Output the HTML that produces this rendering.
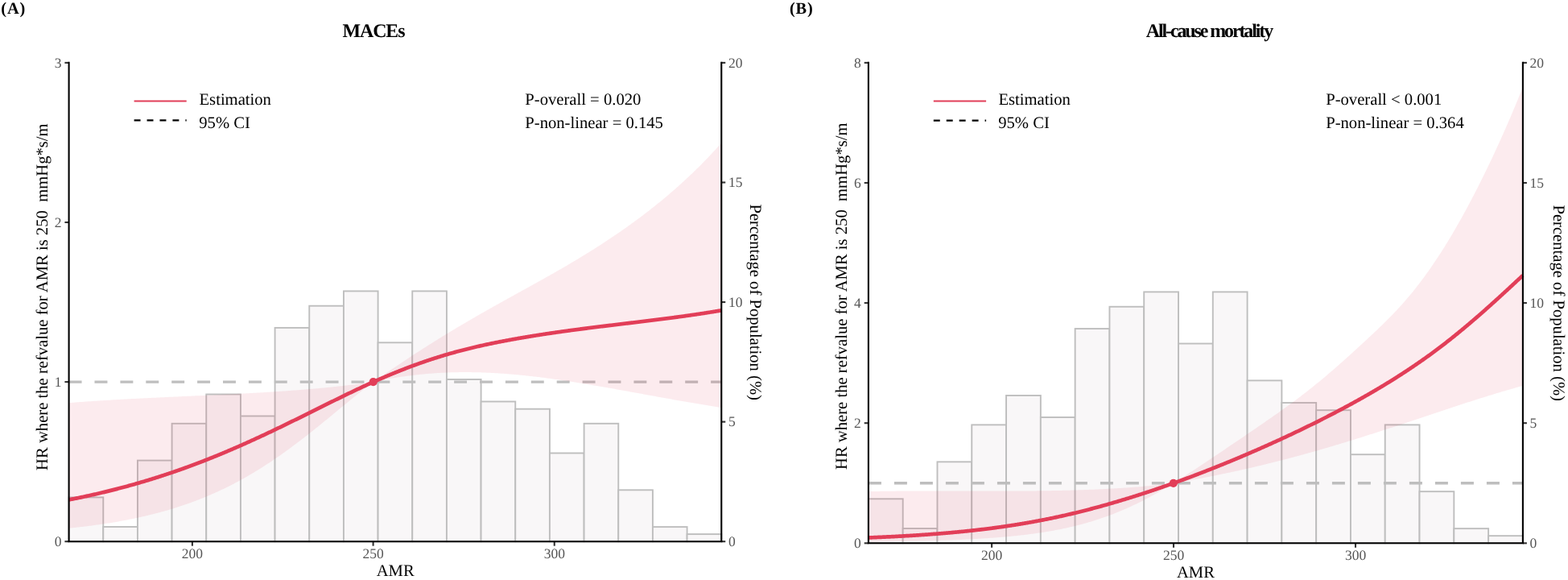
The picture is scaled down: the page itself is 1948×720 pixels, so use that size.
<!DOCTYPE html>
<html><head><meta charset="utf-8"><title>RCS plots</title>
<style>
html,body{margin:0;padding:0;background:#fff;}
body{width:1948px;height:720px;overflow:hidden;}
svg{display:block;}
text{font-family:'Liberation Serif','Times New Roman',serif;text-rendering:geometricPrecision;}
.tk{font-size:17.5px;fill:#555555;}
.lb{font-size:20.65px;fill:#000;}
.tb{font-size:20.4px;font-weight:bold;fill:#000;}
.tt{font-size:23.9px;font-weight:bold;fill:#000;}
.t1{letter-spacing:-1.1px;}
.t2{letter-spacing:-2.08px;}
</style></head>
<body>
<svg width="1948" height="720" viewBox="0 0 1948 720">
<rect x="0" y="0" width="1948" height="720" fill="#fff"/>
<rect x="85.60" y="617.40" width="42.67" height="54.80" fill="#f9f7f8" stroke="#bebebe" stroke-width="1.9"/>
<rect x="128.27" y="654.00" width="42.67" height="18.20" fill="#f9f7f8" stroke="#bebebe" stroke-width="1.9"/>
<rect x="170.93" y="571.60" width="42.67" height="100.60" fill="#f9f7f8" stroke="#bebebe" stroke-width="1.9"/>
<rect x="213.60" y="525.80" width="42.67" height="146.40" fill="#f9f7f8" stroke="#bebebe" stroke-width="1.9"/>
<rect x="256.26" y="489.50" width="42.67" height="182.70" fill="#f9f7f8" stroke="#bebebe" stroke-width="1.9"/>
<rect x="298.93" y="516.50" width="42.67" height="155.70" fill="#f9f7f8" stroke="#bebebe" stroke-width="1.9"/>
<rect x="341.59" y="406.90" width="42.67" height="265.30" fill="#f9f7f8" stroke="#bebebe" stroke-width="1.9"/>
<rect x="384.26" y="379.70" width="42.67" height="292.50" fill="#f9f7f8" stroke="#bebebe" stroke-width="1.9"/>
<rect x="426.93" y="361.40" width="42.67" height="310.80" fill="#f9f7f8" stroke="#bebebe" stroke-width="1.9"/>
<rect x="469.59" y="425.30" width="42.67" height="246.90" fill="#f9f7f8" stroke="#bebebe" stroke-width="1.9"/>
<rect x="512.26" y="361.40" width="42.67" height="310.80" fill="#f9f7f8" stroke="#bebebe" stroke-width="1.9"/>
<rect x="554.92" y="471.00" width="42.67" height="201.20" fill="#f9f7f8" stroke="#bebebe" stroke-width="1.9"/>
<rect x="597.59" y="498.50" width="42.67" height="173.70" fill="#f9f7f8" stroke="#bebebe" stroke-width="1.9"/>
<rect x="640.26" y="507.70" width="42.67" height="164.50" fill="#f9f7f8" stroke="#bebebe" stroke-width="1.9"/>
<rect x="682.92" y="562.50" width="42.67" height="109.70" fill="#f9f7f8" stroke="#bebebe" stroke-width="1.9"/>
<rect x="725.59" y="525.80" width="42.67" height="146.40" fill="#f9f7f8" stroke="#bebebe" stroke-width="1.9"/>
<rect x="768.25" y="608.30" width="42.67" height="63.90" fill="#f9f7f8" stroke="#bebebe" stroke-width="1.9"/>
<rect x="810.92" y="654.10" width="42.67" height="18.10" fill="#f9f7f8" stroke="#bebebe" stroke-width="1.9"/>
<rect x="853.58" y="663.10" width="42.67" height="9.10" fill="#f9f7f8" stroke="#bebebe" stroke-width="1.9"/>
<line x1="85.60" y1="474.10" x2="896.25" y2="474.10" stroke="#bebebe" stroke-width="3.4" stroke-dasharray="15.95 15.95"/>
<path d="M85.60,500.13 L87.10,500.02 L88.60,499.90 L90.10,499.78 L91.60,499.67 L93.10,499.56 L94.60,499.44 L96.10,499.33 L97.60,499.22 L99.10,499.11 L100.60,499.00 L102.10,498.89 L103.60,498.79 L105.10,498.68 L106.60,498.57 L108.10,498.47 L109.60,498.37 L111.10,498.26 L112.60,498.16 L114.10,498.06 L115.60,497.96 L117.10,497.86 L118.60,497.76 L120.10,497.66 L121.60,497.57 L123.10,497.47 L124.60,497.37 L126.10,497.28 L127.60,497.18 L129.10,497.09 L130.60,497.00 L132.10,496.91 L133.60,496.82 L135.10,496.72 L136.60,496.63 L138.10,496.55 L139.60,496.46 L141.10,496.37 L142.60,496.28 L144.10,496.19 L145.60,496.11 L147.10,496.02 L148.60,495.94 L150.10,495.85 L151.60,495.77 L153.10,495.69 L154.60,495.61 L156.10,495.52 L157.60,495.44 L159.10,495.36 L160.60,495.28 L162.10,495.20 L163.60,495.12 L165.10,495.04 L166.60,494.96 L168.10,494.89 L169.60,494.81 L171.10,494.73 L172.60,494.66 L174.10,494.58 L175.60,494.50 L177.10,494.43 L178.60,494.35 L180.10,494.28 L181.60,494.21 L183.10,494.13 L184.60,494.06 L186.10,493.99 L187.60,493.91 L189.10,493.84 L190.60,493.77 L192.10,493.70 L193.60,493.63 L195.10,493.56 L196.60,493.48 L198.10,493.41 L199.60,493.34 L201.10,493.27 L202.60,493.20 L204.10,493.13 L205.60,493.07 L207.10,493.00 L208.60,492.93 L210.10,492.86 L211.60,492.79 L213.10,492.72 L214.60,492.65 L216.10,492.58 L217.60,492.52 L219.10,492.45 L220.60,492.38 L222.10,492.31 L223.60,492.25 L225.10,492.18 L226.60,492.11 L228.10,492.04 L229.60,491.98 L231.10,491.91 L232.60,491.84 L234.10,491.77 L235.60,491.71 L237.10,491.64 L238.60,491.57 L240.10,491.50 L241.60,491.44 L243.10,491.37 L244.60,491.30 L246.10,491.23 L247.60,491.17 L249.10,491.10 L250.60,491.03 L252.10,490.96 L253.60,490.89 L255.10,490.82 L256.60,490.76 L258.10,490.69 L259.60,490.62 L261.10,490.55 L262.60,490.48 L264.10,490.41 L265.60,490.34 L267.10,490.27 L268.60,490.20 L270.10,490.13 L271.60,490.06 L273.10,489.99 L274.60,489.91 L276.10,489.84 L277.60,489.77 L279.10,489.70 L280.60,489.62 L282.10,489.55 L283.60,489.48 L285.10,489.40 L286.60,489.33 L288.10,489.25 L289.60,489.18 L291.10,489.10 L292.60,489.03 L294.10,488.95 L295.60,488.87 L297.10,488.80 L298.60,488.72 L300.10,488.64 L301.60,488.56 L303.10,488.48 L304.60,488.40 L306.10,488.32 L307.60,488.24 L309.10,488.16 L310.60,488.08 L312.10,487.99 L313.60,487.91 L315.10,487.82 L316.60,487.74 L318.10,487.65 L319.60,487.57 L321.10,487.48 L322.60,487.39 L324.10,487.31 L325.60,487.22 L327.10,487.13 L328.60,487.04 L330.10,486.95 L331.60,486.85 L333.10,486.76 L334.60,486.67 L336.10,486.57 L337.60,486.48 L339.10,486.38 L340.60,486.29 L342.10,486.19 L343.60,486.09 L345.10,485.99 L346.60,485.89 L348.10,485.79 L349.60,485.69 L351.10,485.59 L352.60,485.48 L354.10,485.38 L355.60,485.27 L357.10,485.16 L358.60,485.06 L360.10,484.95 L361.60,484.84 L363.10,484.73 L364.60,484.62 L366.10,484.50 L367.60,484.39 L369.10,484.27 L370.60,484.16 L372.10,484.04 L373.60,483.92 L375.10,483.80 L376.60,483.68 L378.10,483.56 L379.60,483.44 L381.10,483.31 L382.60,483.19 L384.10,483.06 L385.60,482.93 L387.10,482.80 L388.60,482.67 L390.10,482.54 L391.60,482.41 L393.10,482.28 L394.60,482.14 L396.10,482.00 L397.60,481.86 L399.10,481.73 L400.60,481.58 L402.10,481.44 L403.60,481.30 L405.10,481.15 L406.60,481.01 L408.10,480.86 L409.60,480.71 L411.10,480.56 L412.60,480.41 L414.10,480.25 L415.60,480.10 L417.10,479.94 L418.60,479.78 L420.10,479.62 L421.60,479.46 L423.10,479.29 L424.60,479.13 L426.10,478.96 L427.60,478.79 L429.10,478.62 L430.60,478.45 L432.10,478.28 L433.60,478.10 L435.10,477.93 L436.60,477.75 L438.10,477.57 L439.60,477.39 L441.10,477.20 L442.60,477.02 L444.10,476.83 L445.60,476.64 L447.10,476.45 L448.60,476.25 L450.10,476.06 L451.60,475.86 L453.10,475.66 L454.60,475.46 L456.10,475.26 L457.60,475.05 L459.10,474.85 L460.60,474.64 L462.10,474.43 L463.60,474.21 L463.70,474.20 L465.20,473.16 L466.70,472.12 L468.20,471.08 L469.70,470.04 L471.20,469.00 L472.70,467.97 L474.20,466.94 L475.70,465.91 L477.20,464.88 L478.70,463.85 L480.20,462.83 L481.70,461.81 L483.20,460.78 L484.70,459.77 L486.20,458.75 L487.70,457.73 L489.20,456.72 L490.70,455.71 L492.20,454.70 L493.70,453.69 L495.20,452.69 L496.70,451.68 L498.20,450.68 L499.70,449.69 L501.20,448.69 L502.70,447.69 L504.20,446.70 L505.70,445.71 L507.20,444.72 L508.70,443.74 L510.20,442.76 L511.70,441.77 L513.20,440.80 L514.70,439.82 L516.20,438.85 L517.70,437.87 L519.20,436.90 L520.70,435.94 L522.20,434.97 L523.70,434.01 L525.20,433.05 L526.70,432.09 L528.20,431.14 L529.70,430.18 L531.20,429.23 L532.70,428.28 L534.20,427.34 L535.70,426.39 L537.20,425.45 L538.70,424.51 L540.20,423.58 L541.70,422.64 L543.20,421.71 L544.70,420.78 L546.20,419.85 L547.70,418.93 L549.20,418.01 L550.70,417.09 L552.20,416.17 L553.70,415.25 L555.20,414.34 L556.70,413.43 L558.20,412.52 L559.70,411.61 L561.20,410.71 L562.70,409.80 L564.20,408.90 L565.70,408.00 L567.20,407.11 L568.70,406.22 L570.20,405.32 L571.70,404.43 L573.20,403.55 L574.70,402.66 L576.20,401.78 L577.70,400.90 L579.20,400.02 L580.70,399.14 L582.20,398.26 L583.70,397.39 L585.20,396.52 L586.70,395.65 L588.20,394.78 L589.70,393.91 L591.20,393.05 L592.70,392.19 L594.20,391.33 L595.70,390.47 L597.20,389.61 L598.70,388.75 L600.20,387.90 L601.70,387.04 L603.20,386.19 L604.70,385.34 L606.20,384.49 L607.70,383.64 L609.20,382.80 L610.70,381.95 L612.20,381.11 L613.70,380.27 L615.20,379.43 L616.70,378.59 L618.20,377.75 L619.70,376.91 L621.20,376.07 L622.70,375.24 L624.20,374.40 L625.70,373.57 L627.20,372.73 L628.70,371.90 L630.20,371.07 L631.70,370.24 L633.20,369.41 L634.70,368.57 L636.20,367.74 L637.70,366.92 L639.20,366.09 L640.70,365.26 L642.20,364.43 L643.70,363.60 L645.20,362.77 L646.70,361.94 L648.20,361.12 L649.70,360.29 L651.20,359.46 L652.70,358.63 L654.20,357.80 L655.70,356.97 L657.20,356.15 L658.70,355.32 L660.20,354.49 L661.70,353.66 L663.20,352.82 L664.70,351.99 L666.20,351.16 L667.70,350.33 L669.20,349.49 L670.70,348.66 L672.20,347.82 L673.70,346.98 L675.20,346.15 L676.70,345.31 L678.20,344.47 L679.70,343.62 L681.20,342.78 L682.70,341.93 L684.20,341.09 L685.70,340.24 L687.20,339.39 L688.70,338.54 L690.20,337.68 L691.70,336.83 L693.20,335.97 L694.70,335.11 L696.20,334.25 L697.70,333.38 L699.20,332.51 L700.70,331.64 L702.20,330.77 L703.70,329.90 L705.20,329.02 L706.70,328.14 L708.20,327.26 L709.70,326.37 L711.20,325.48 L712.70,324.59 L714.20,323.70 L715.70,322.80 L717.20,321.90 L718.70,321.00 L720.20,320.09 L721.70,319.18 L723.20,318.27 L724.70,317.35 L726.20,316.43 L727.70,315.51 L729.20,314.59 L730.70,313.66 L732.20,312.73 L733.70,311.79 L735.20,310.85 L736.70,309.91 L738.20,308.96 L739.70,308.01 L741.20,307.06 L742.70,306.10 L744.20,305.14 L745.70,304.18 L747.20,303.21 L748.70,302.24 L750.20,301.26 L751.70,300.28 L753.20,299.30 L754.70,298.31 L756.20,297.32 L757.70,296.32 L759.20,295.32 L760.70,294.32 L762.20,293.31 L763.70,292.29 L765.20,291.27 L766.70,290.25 L768.20,289.22 L769.70,288.19 L771.20,287.16 L772.70,286.11 L774.20,285.07 L775.70,284.02 L777.20,282.96 L778.70,281.90 L780.20,280.83 L781.70,279.76 L783.20,278.69 L784.70,277.61 L786.20,276.52 L787.70,275.43 L789.20,274.33 L790.70,273.23 L792.20,272.12 L793.70,271.00 L795.20,269.89 L796.70,268.76 L798.20,267.63 L799.70,266.49 L801.20,265.35 L802.70,264.20 L804.20,263.05 L805.70,261.89 L807.20,260.72 L808.70,259.55 L810.20,258.37 L811.70,257.18 L813.20,255.99 L814.70,254.79 L816.20,253.59 L817.70,252.37 L819.20,251.16 L820.70,249.93 L822.20,248.70 L823.70,247.46 L825.20,246.21 L826.70,244.96 L828.20,243.70 L829.70,242.43 L831.20,241.15 L832.70,239.87 L834.20,238.58 L835.70,237.28 L837.20,235.98 L838.70,234.67 L840.20,233.34 L841.70,232.02 L843.20,230.68 L844.70,229.33 L846.20,227.98 L847.70,226.62 L849.20,225.25 L850.70,223.87 L852.20,222.48 L853.70,221.09 L855.20,219.69 L856.70,218.27 L858.20,216.85 L859.70,215.42 L861.20,213.98 L862.70,212.53 L864.20,211.07 L865.70,209.60 L867.20,208.13 L868.70,206.64 L870.20,205.14 L871.70,203.64 L873.20,202.12 L874.70,200.59 L876.20,199.06 L877.70,197.51 L879.20,195.95 L880.70,194.39 L882.20,192.81 L883.70,191.22 L885.20,189.62 L886.70,188.01 L888.20,186.39 L889.70,184.76 L891.20,183.11 L892.70,181.46 L894.20,179.79 L895.70,178.11 L896.25,177.50 L896.25,506.04 L895.70,505.96 L894.20,505.72 L892.70,505.49 L891.20,505.25 L889.70,505.01 L888.20,504.78 L886.70,504.54 L885.20,504.30 L883.70,504.06 L882.20,503.81 L880.70,503.57 L879.20,503.33 L877.70,503.08 L876.20,502.84 L874.70,502.59 L873.20,502.34 L871.70,502.09 L870.20,501.84 L868.70,501.59 L867.20,501.34 L865.70,501.09 L864.20,500.83 L862.70,500.58 L861.20,500.32 L859.70,500.07 L858.20,499.81 L856.70,499.55 L855.20,499.30 L853.70,499.04 L852.20,498.78 L850.70,498.52 L849.20,498.26 L847.70,497.99 L846.20,497.73 L844.70,497.47 L843.20,497.20 L841.70,496.94 L840.20,496.68 L838.70,496.41 L837.20,496.14 L835.70,495.88 L834.20,495.61 L832.70,495.34 L831.20,495.08 L829.70,494.81 L828.20,494.54 L826.70,494.27 L825.20,494.00 L823.70,493.73 L822.20,493.46 L820.70,493.19 L819.20,492.92 L817.70,492.65 L816.20,492.38 L814.70,492.10 L813.20,491.83 L811.70,491.56 L810.20,491.29 L808.70,491.01 L807.20,490.74 L805.70,490.47 L804.20,490.20 L802.70,489.92 L801.20,489.65 L799.70,489.38 L798.20,489.10 L796.70,488.83 L795.20,488.56 L793.70,488.28 L792.20,488.01 L790.70,487.74 L789.20,487.47 L787.70,487.19 L786.20,486.92 L784.70,486.65 L783.20,486.38 L781.70,486.10 L780.20,485.83 L778.70,485.56 L777.20,485.29 L775.70,485.02 L774.20,484.75 L772.70,484.48 L771.20,484.21 L769.70,483.94 L768.20,483.67 L766.70,483.40 L765.20,483.13 L763.70,482.86 L762.20,482.60 L760.70,482.33 L759.20,482.06 L757.70,481.80 L756.20,481.53 L754.70,481.27 L753.20,481.00 L751.70,480.74 L750.20,480.48 L748.70,480.22 L747.20,479.96 L745.70,479.70 L744.20,479.44 L742.70,479.18 L741.20,478.92 L739.70,478.67 L738.20,478.41 L736.70,478.16 L735.20,477.90 L733.70,477.65 L732.20,477.40 L730.70,477.15 L729.20,476.90 L727.70,476.65 L726.20,476.40 L724.70,476.16 L723.20,475.91 L721.70,475.67 L720.20,475.42 L718.70,475.18 L717.20,474.94 L715.70,474.70 L714.20,474.47 L712.70,474.23 L711.20,474.00 L709.70,473.76 L708.20,473.53 L706.70,473.30 L705.20,473.07 L703.70,472.85 L702.20,472.62 L700.70,472.40 L699.20,472.17 L697.70,471.95 L696.20,471.73 L694.70,471.52 L693.20,471.30 L691.70,471.09 L690.20,470.88 L688.70,470.67 L687.20,470.46 L685.70,470.25 L684.20,470.05 L682.70,469.84 L681.20,469.64 L679.70,469.44 L678.20,469.25 L676.70,469.05 L675.20,468.86 L673.70,468.67 L672.20,468.48 L670.70,468.30 L669.20,468.11 L667.70,467.93 L666.20,467.75 L664.70,467.57 L663.20,467.40 L661.70,467.22 L660.20,467.05 L658.70,466.89 L657.20,466.72 L655.70,466.56 L654.20,466.40 L652.70,466.24 L651.20,466.08 L649.70,465.93 L648.20,465.78 L646.70,465.63 L645.20,465.48 L643.70,465.34 L642.20,465.20 L640.70,465.06 L639.20,464.93 L637.70,464.80 L636.20,464.67 L634.70,464.54 L633.20,464.42 L631.70,464.30 L630.20,464.18 L628.70,464.06 L627.20,463.95 L625.70,463.84 L624.20,463.74 L622.70,463.63 L621.20,463.53 L619.70,463.44 L618.20,463.34 L616.70,463.25 L615.20,463.16 L613.70,463.08 L612.20,463.00 L610.70,462.92 L609.20,462.84 L607.70,462.77 L606.20,462.70 L604.70,462.64 L603.20,462.58 L601.70,462.52 L600.20,462.46 L598.70,462.41 L597.20,462.37 L595.70,462.32 L594.20,462.28 L592.70,462.24 L591.20,462.21 L589.70,462.18 L588.20,462.15 L586.70,462.13 L585.20,462.11 L583.70,462.09 L582.20,462.08 L580.70,462.07 L579.20,462.07 L577.70,462.06 L576.20,462.07 L574.70,462.07 L573.20,462.08 L571.70,462.10 L570.20,462.12 L568.70,462.14 L567.20,462.16 L565.70,462.19 L564.20,462.23 L562.70,462.26 L561.20,462.30 L559.70,462.35 L558.20,462.40 L556.70,462.45 L555.20,462.51 L553.70,462.57 L552.20,462.64 L550.70,462.71 L549.20,462.78 L547.70,462.86 L546.20,462.94 L544.70,463.03 L543.20,463.12 L541.70,463.21 L540.20,463.31 L538.70,463.41 L537.20,463.52 L535.70,463.63 L534.20,463.75 L532.70,463.87 L531.20,463.99 L529.70,464.12 L528.20,464.25 L526.70,464.39 L525.20,464.53 L523.70,464.68 L522.20,464.83 L520.70,464.98 L519.20,465.14 L517.70,465.31 L516.20,465.47 L514.70,465.65 L513.20,465.82 L511.70,466.01 L510.20,466.19 L508.70,466.38 L507.20,466.58 L505.70,466.78 L504.20,466.98 L502.70,467.19 L501.20,467.40 L499.70,467.62 L498.20,467.84 L496.70,468.07 L495.20,468.30 L493.70,468.53 L492.20,468.77 L490.70,469.02 L489.20,469.27 L487.70,469.52 L486.20,469.78 L484.70,470.04 L483.20,470.31 L481.70,470.58 L480.20,470.86 L478.70,471.14 L477.20,471.42 L475.70,471.71 L474.20,472.01 L472.70,472.31 L471.20,472.61 L469.70,472.92 L468.20,473.23 L466.70,473.55 L465.20,473.87 L463.70,474.20 L463.60,474.27 L462.10,475.41 L460.60,476.55 L459.10,477.69 L457.60,478.85 L456.10,480.01 L454.60,481.18 L453.10,482.35 L451.60,483.53 L450.10,484.71 L448.60,485.90 L447.10,487.09 L445.60,488.29 L444.10,489.49 L442.60,490.69 L441.10,491.90 L439.60,493.12 L438.10,494.33 L436.60,495.55 L435.10,496.77 L433.60,498.00 L432.10,499.22 L430.60,500.45 L429.10,501.68 L427.60,502.91 L426.10,504.14 L424.60,505.37 L423.10,506.61 L421.60,507.84 L420.10,509.08 L418.60,510.31 L417.10,511.55 L415.60,512.78 L414.10,514.01 L412.60,515.25 L411.10,516.48 L409.60,517.71 L408.10,518.94 L406.60,520.17 L405.10,521.39 L403.60,522.62 L402.10,523.84 L400.60,525.06 L399.10,526.27 L397.60,527.49 L396.10,528.70 L394.60,529.91 L393.10,531.12 L391.60,532.32 L390.10,533.52 L388.60,534.71 L387.10,535.90 L385.60,537.09 L384.10,538.28 L382.60,539.46 L381.10,540.63 L379.60,541.80 L378.10,542.97 L376.60,544.13 L375.10,545.29 L373.60,546.44 L372.10,547.59 L370.60,548.73 L369.10,549.87 L367.60,551.00 L366.10,552.12 L364.60,553.24 L363.10,554.36 L361.60,555.47 L360.10,556.57 L358.60,557.67 L357.10,558.76 L355.60,559.85 L354.10,560.93 L352.60,562.00 L351.10,563.07 L349.60,564.13 L348.10,565.18 L346.60,566.23 L345.10,567.27 L343.60,568.31 L342.10,569.34 L340.60,570.36 L339.10,571.37 L337.60,572.38 L336.10,573.38 L334.60,574.38 L333.10,575.36 L331.60,576.34 L330.10,577.32 L328.60,578.28 L327.10,579.24 L325.60,580.20 L324.10,581.14 L322.60,582.08 L321.10,583.01 L319.60,583.94 L318.10,584.85 L316.60,585.76 L315.10,586.66 L313.60,587.56 L312.10,588.45 L310.60,589.33 L309.10,590.20 L307.60,591.07 L306.10,591.93 L304.60,592.78 L303.10,593.63 L301.60,594.46 L300.10,595.29 L298.60,596.12 L297.10,596.93 L295.60,597.74 L294.10,598.54 L292.60,599.34 L291.10,600.13 L289.60,600.91 L288.10,601.68 L286.60,602.44 L285.10,603.20 L283.60,603.96 L282.10,604.70 L280.60,605.44 L279.10,606.17 L277.60,606.89 L276.10,607.61 L274.60,608.32 L273.10,609.02 L271.60,609.72 L270.10,610.41 L268.60,611.09 L267.10,611.76 L265.60,612.43 L264.10,613.10 L262.60,613.75 L261.10,614.40 L259.60,615.04 L258.10,615.68 L256.60,616.31 L255.10,616.93 L253.60,617.55 L252.10,618.15 L250.60,618.76 L249.10,619.35 L247.60,619.95 L246.10,620.53 L244.60,621.11 L243.10,621.68 L241.60,622.24 L240.10,622.80 L238.60,623.36 L237.10,623.91 L235.60,624.45 L234.10,624.98 L232.60,625.51 L231.10,626.04 L229.60,626.55 L228.10,627.07 L226.60,627.57 L225.10,628.07 L223.60,628.57 L222.10,629.06 L220.60,629.54 L219.10,630.02 L217.60,630.49 L216.10,630.96 L214.60,631.42 L213.10,631.88 L211.60,632.33 L210.10,632.78 L208.60,633.22 L207.10,633.65 L205.60,634.08 L204.10,634.51 L202.60,634.93 L201.10,635.35 L199.60,635.76 L198.10,636.16 L196.60,636.56 L195.10,636.96 L193.60,637.35 L192.10,637.74 L190.60,638.12 L189.10,638.50 L187.60,638.87 L186.10,639.24 L184.60,639.60 L183.10,639.96 L181.60,640.32 L180.10,640.67 L178.60,641.02 L177.10,641.36 L175.60,641.70 L174.10,642.03 L172.60,642.36 L171.10,642.69 L169.60,643.01 L168.10,643.33 L166.60,643.64 L165.10,643.95 L163.60,644.26 L162.10,644.56 L160.60,644.86 L159.10,645.15 L157.60,645.44 L156.10,645.73 L154.60,646.01 L153.10,646.29 L151.60,646.57 L150.10,646.84 L148.60,647.11 L147.10,647.38 L145.60,647.64 L144.10,647.90 L142.60,648.15 L141.10,648.41 L139.60,648.66 L138.10,648.90 L136.60,649.15 L135.10,649.38 L133.60,649.62 L132.10,649.85 L130.60,650.09 L129.10,650.31 L127.60,650.54 L126.10,650.76 L124.60,650.98 L123.10,651.19 L121.60,651.41 L120.10,651.62 L118.60,651.82 L117.10,652.03 L115.60,652.23 L114.10,652.43 L112.60,652.63 L111.10,652.82 L109.60,653.01 L108.10,653.20 L106.60,653.39 L105.10,653.57 L103.60,653.75 L102.10,653.93 L100.60,654.11 L99.10,654.28 L97.60,654.45 L96.10,654.62 L94.60,654.79 L93.10,654.95 L91.60,655.12 L90.10,655.28 L88.60,655.43 L87.10,655.59 L85.60,655.74 Z" fill="#e23e58" fill-opacity="0.1" stroke="none"/>
<path d="M85.60,620.41 L86.60,620.22 L87.60,620.02 L88.60,619.82 L89.60,619.62 L90.60,619.42 L91.60,619.22 L92.60,619.02 L93.60,618.82 L94.60,618.62 L95.60,618.41 L96.60,618.21 L97.60,618.00 L98.60,617.79 L99.60,617.58 L100.60,617.37 L101.60,617.16 L102.60,616.95 L103.60,616.74 L104.60,616.53 L105.60,616.31 L106.60,616.10 L107.60,615.88 L108.60,615.66 L109.60,615.44 L110.60,615.22 L111.60,615.00 L112.60,614.78 L113.60,614.56 L114.60,614.33 L115.60,614.11 L116.60,613.88 L117.60,613.66 L118.60,613.43 L119.60,613.20 L120.60,612.97 L121.60,612.74 L122.60,612.51 L123.60,612.27 L124.60,612.04 L125.60,611.80 L126.60,611.57 L127.60,611.33 L128.60,611.09 L129.60,610.85 L130.60,610.61 L131.60,610.37 L132.60,610.12 L133.60,609.88 L134.60,609.63 L135.60,609.39 L136.60,609.14 L137.60,608.89 L138.60,608.64 L139.60,608.39 L140.60,608.14 L141.60,607.88 L142.60,607.63 L143.60,607.37 L144.60,607.12 L145.60,606.86 L146.60,606.60 L147.60,606.34 L148.60,606.08 L149.60,605.81 L150.60,605.55 L151.60,605.29 L152.60,605.02 L153.60,604.75 L154.60,604.49 L155.60,604.22 L156.60,603.95 L157.60,603.67 L158.60,603.40 L159.60,603.13 L160.60,602.85 L161.60,602.58 L162.60,602.30 L163.60,602.02 L164.60,601.74 L165.60,601.46 L166.60,601.18 L167.60,600.89 L168.60,600.61 L169.60,600.32 L170.60,600.03 L171.60,599.75 L172.60,599.46 L173.60,599.17 L174.60,598.87 L175.60,598.58 L176.60,598.29 L177.60,597.99 L178.60,597.70 L179.60,597.40 L180.60,597.10 L181.60,596.80 L182.60,596.50 L183.60,596.19 L184.60,595.89 L185.60,595.59 L186.60,595.28 L187.60,594.97 L188.60,594.66 L189.60,594.35 L190.60,594.04 L191.60,593.73 L192.60,593.41 L193.60,593.10 L194.60,592.78 L195.60,592.47 L196.60,592.15 L197.60,591.83 L198.60,591.51 L199.60,591.18 L200.60,590.86 L201.60,590.54 L202.60,590.21 L203.60,589.88 L204.60,589.55 L205.60,589.22 L206.60,588.89 L207.60,588.56 L208.60,588.23 L209.60,587.89 L210.60,587.56 L211.60,587.22 L212.60,586.88 L213.60,586.54 L214.60,586.20 L215.60,585.86 L216.60,585.52 L217.60,585.17 L218.60,584.82 L219.60,584.48 L220.60,584.13 L221.60,583.78 L222.60,583.43 L223.60,583.08 L224.60,582.72 L225.60,582.37 L226.60,582.01 L227.60,581.66 L228.60,581.30 L229.60,580.94 L230.60,580.58 L231.60,580.21 L232.60,579.85 L233.60,579.49 L234.60,579.12 L235.60,578.75 L236.60,578.39 L237.60,578.02 L238.60,577.64 L239.60,577.27 L240.60,576.90 L241.60,576.53 L242.60,576.15 L243.60,575.77 L244.60,575.39 L245.60,575.02 L246.60,574.63 L247.60,574.25 L248.60,573.87 L249.60,573.49 L250.60,573.10 L251.60,572.71 L252.60,572.33 L253.60,571.94 L254.60,571.55 L255.60,571.15 L256.60,570.76 L257.60,570.37 L258.60,569.97 L259.60,569.58 L260.60,569.18 L261.60,568.78 L262.60,568.38 L263.60,567.98 L264.60,567.58 L265.60,567.17 L266.60,566.77 L267.60,566.36 L268.60,565.96 L269.60,565.55 L270.60,565.14 L271.60,564.73 L272.60,564.32 L273.60,563.90 L274.60,563.49 L275.60,563.07 L276.60,562.66 L277.60,562.24 L278.60,561.82 L279.60,561.40 L280.60,560.98 L281.60,560.56 L282.60,560.14 L283.60,559.71 L284.60,559.29 L285.60,558.86 L286.60,558.43 L287.60,558.00 L288.60,557.57 L289.60,557.14 L290.60,556.71 L291.60,556.28 L292.60,555.84 L293.60,555.41 L294.60,554.97 L295.60,554.54 L296.60,554.10 L297.60,553.66 L298.60,553.22 L299.60,552.78 L300.60,552.34 L301.60,551.89 L302.60,551.45 L303.60,551.00 L304.60,550.56 L305.60,550.11 L306.60,549.66 L307.60,549.21 L308.60,548.76 L309.60,548.31 L310.60,547.86 L311.60,547.40 L312.60,546.95 L313.60,546.49 L314.60,546.04 L315.60,545.58 L316.60,545.12 L317.60,544.66 L318.60,544.20 L319.60,543.74 L320.60,543.28 L321.60,542.82 L322.60,542.36 L323.60,541.89 L324.60,541.43 L325.60,540.96 L326.60,540.50 L327.60,540.03 L328.60,539.56 L329.60,539.09 L330.60,538.62 L331.60,538.15 L332.60,537.68 L333.60,537.21 L334.60,536.73 L335.60,536.26 L336.60,535.79 L337.60,535.31 L338.60,534.83 L339.60,534.36 L340.60,533.88 L341.60,533.40 L342.60,532.92 L343.60,532.44 L344.60,531.96 L345.60,531.48 L346.60,531.00 L347.60,530.52 L348.60,530.04 L349.60,529.55 L350.60,529.07 L351.60,528.59 L352.60,528.10 L353.60,527.62 L354.60,527.13 L355.60,526.64 L356.60,526.16 L357.60,525.67 L358.60,525.18 L359.60,524.69 L360.60,524.20 L361.60,523.71 L362.60,523.22 L363.60,522.73 L364.60,522.24 L365.60,521.75 L366.60,521.26 L367.60,520.77 L368.60,520.28 L369.60,519.78 L370.60,519.29 L371.60,518.80 L372.60,518.30 L373.60,517.81 L374.60,517.31 L375.60,516.82 L376.60,516.33 L377.60,515.83 L378.60,515.34 L379.60,514.84 L380.60,514.34 L381.60,513.85 L382.60,513.35 L383.60,512.86 L384.60,512.36 L385.60,511.86 L386.60,511.37 L387.60,510.87 L388.60,510.37 L389.60,509.88 L390.60,509.38 L391.60,508.88 L392.60,508.39 L393.60,507.89 L394.60,507.39 L395.60,506.90 L396.60,506.40 L397.60,505.90 L398.60,505.41 L399.60,504.91 L400.60,504.41 L401.60,503.92 L402.60,503.42 L403.60,502.93 L404.60,502.43 L405.60,501.94 L406.60,501.44 L407.60,500.95 L408.60,500.45 L409.60,499.96 L410.60,499.46 L411.60,498.97 L412.60,498.48 L413.60,497.98 L414.60,497.49 L415.60,497.00 L416.60,496.51 L417.60,496.01 L418.60,495.52 L419.60,495.03 L420.60,494.54 L421.60,494.05 L422.60,493.57 L423.60,493.08 L424.60,492.59 L425.60,492.10 L426.60,491.62 L427.60,491.13 L428.60,490.64 L429.60,490.16 L430.60,489.68 L431.60,489.19 L432.60,488.71 L433.60,488.23 L434.60,487.75 L435.60,487.27 L436.60,486.79 L437.60,486.31 L438.60,485.83 L439.60,485.36 L440.60,484.88 L441.60,484.41 L442.60,483.93 L443.60,483.46 L444.60,482.99 L445.60,482.52 L446.60,482.05 L447.60,481.58 L448.60,481.11 L449.60,480.64 L450.60,480.18 L451.60,479.71 L452.60,479.25 L453.60,478.79 L454.60,478.33 L455.60,477.87 L456.60,477.41 L457.60,476.95 L458.60,476.50 L459.60,476.04 L460.60,475.59 L461.60,475.14 L462.60,474.69 L463.60,474.24 L464.60,473.79 L465.60,473.35 L466.60,472.90 L467.60,472.46 L468.60,472.02 L469.60,471.58 L470.60,471.14 L471.60,470.70 L472.60,470.27 L473.60,469.83 L474.60,469.40 L475.60,468.97 L476.60,468.54 L477.60,468.11 L478.60,467.69 L479.60,467.26 L480.60,466.84 L481.60,466.42 L482.60,466.00 L483.60,465.58 L484.60,465.16 L485.60,464.75 L486.60,464.34 L487.60,463.92 L488.60,463.51 L489.60,463.10 L490.60,462.70 L491.60,462.29 L492.60,461.89 L493.60,461.49 L494.60,461.08 L495.60,460.69 L496.60,460.29 L497.60,459.89 L498.60,459.50 L499.60,459.11 L500.60,458.72 L501.60,458.33 L502.60,457.94 L503.60,457.56 L504.60,457.17 L505.60,456.79 L506.60,456.41 L507.60,456.03 L508.60,455.65 L509.60,455.28 L510.60,454.90 L511.60,454.53 L512.60,454.16 L513.60,453.79 L514.60,453.43 L515.60,453.06 L516.60,452.70 L517.60,452.34 L518.60,451.98 L519.60,451.62 L520.60,451.27 L521.60,450.91 L522.60,450.56 L523.60,450.21 L524.60,449.86 L525.60,449.51 L526.60,449.17 L527.60,448.82 L528.60,448.48 L529.60,448.14 L530.60,447.80 L531.60,447.47 L532.60,447.13 L533.60,446.80 L534.60,446.47 L535.60,446.14 L536.60,445.81 L537.60,445.49 L538.60,445.16 L539.60,444.84 L540.60,444.52 L541.60,444.20 L542.60,443.89 L543.60,443.57 L544.60,443.26 L545.60,442.95 L546.60,442.64 L547.60,442.33 L548.60,442.03 L549.60,441.72 L550.60,441.42 L551.60,441.12 L552.60,440.82 L553.60,440.52 L554.60,440.23 L555.60,439.94 L556.60,439.65 L557.60,439.36 L558.60,439.07 L559.60,438.78 L560.60,438.50 L561.60,438.22 L562.60,437.94 L563.60,437.66 L564.60,437.38 L565.60,437.11 L566.60,436.83 L567.60,436.56 L568.60,436.29 L569.60,436.03 L570.60,435.76 L571.60,435.49 L572.60,435.23 L573.60,434.97 L574.60,434.71 L575.60,434.45 L576.60,434.20 L577.60,433.94 L578.60,433.69 L579.60,433.44 L580.60,433.19 L581.60,432.94 L582.60,432.69 L583.60,432.45 L584.60,432.20 L585.60,431.96 L586.60,431.72 L587.60,431.48 L588.60,431.24 L589.60,431.01 L590.60,430.77 L591.60,430.54 L592.60,430.31 L593.60,430.08 L594.60,429.85 L595.60,429.62 L596.60,429.39 L597.60,429.17 L598.60,428.95 L599.60,428.72 L600.60,428.50 L601.60,428.28 L602.60,428.07 L603.60,427.85 L604.60,427.63 L605.60,427.42 L606.60,427.21 L607.60,427.00 L608.60,426.79 L609.60,426.58 L610.60,426.37 L611.60,426.16 L612.60,425.96 L613.60,425.75 L614.60,425.55 L615.60,425.35 L616.60,425.15 L617.60,424.95 L618.60,424.75 L619.60,424.55 L620.60,424.36 L621.60,424.16 L622.60,423.97 L623.60,423.77 L624.60,423.58 L625.60,423.39 L626.60,423.20 L627.60,423.01 L628.60,422.83 L629.60,422.64 L630.60,422.45 L631.60,422.27 L632.60,422.08 L633.60,421.90 L634.60,421.72 L635.60,421.54 L636.60,421.36 L637.60,421.18 L638.60,421.00 L639.60,420.82 L640.60,420.64 L641.60,420.46 L642.60,420.29 L643.60,420.11 L644.60,419.94 L645.60,419.77 L646.60,419.59 L647.60,419.42 L648.60,419.25 L649.60,419.08 L650.60,418.91 L651.60,418.74 L652.60,418.57 L653.60,418.40 L654.60,418.24 L655.60,418.07 L656.60,417.91 L657.60,417.74 L658.60,417.58 L659.60,417.41 L660.60,417.25 L661.60,417.09 L662.60,416.93 L663.60,416.77 L664.60,416.61 L665.60,416.45 L666.60,416.29 L667.60,416.13 L668.60,415.98 L669.60,415.82 L670.60,415.66 L671.60,415.51 L672.60,415.35 L673.60,415.20 L674.60,415.05 L675.60,414.89 L676.60,414.74 L677.60,414.59 L678.60,414.44 L679.60,414.29 L680.60,414.14 L681.60,413.99 L682.60,413.84 L683.60,413.69 L684.60,413.55 L685.60,413.40 L686.60,413.25 L687.60,413.11 L688.60,412.96 L689.60,412.82 L690.60,412.67 L691.60,412.53 L692.60,412.39 L693.60,412.25 L694.60,412.10 L695.60,411.96 L696.60,411.82 L697.60,411.68 L698.60,411.54 L699.60,411.40 L700.60,411.26 L701.60,411.12 L702.60,410.99 L703.60,410.85 L704.60,410.71 L705.60,410.58 L706.60,410.44 L707.60,410.30 L708.60,410.17 L709.60,410.03 L710.60,409.90 L711.60,409.76 L712.60,409.63 L713.60,409.50 L714.60,409.37 L715.60,409.23 L716.60,409.10 L717.60,408.97 L718.60,408.84 L719.60,408.71 L720.60,408.58 L721.60,408.45 L722.60,408.32 L723.60,408.19 L724.60,408.06 L725.60,407.93 L726.60,407.80 L727.60,407.67 L728.60,407.55 L729.60,407.42 L730.60,407.29 L731.60,407.16 L732.60,407.04 L733.60,406.91 L734.60,406.79 L735.60,406.66 L736.60,406.53 L737.60,406.41 L738.60,406.28 L739.60,406.16 L740.60,406.03 L741.60,405.91 L742.60,405.79 L743.60,405.66 L744.60,405.54 L745.60,405.42 L746.60,405.29 L747.60,405.17 L748.60,405.05 L749.60,404.92 L750.60,404.80 L751.60,404.68 L752.60,404.56 L753.60,404.44 L754.60,404.31 L755.60,404.19 L756.60,404.07 L757.60,403.95 L758.60,403.83 L759.60,403.71 L760.60,403.59 L761.60,403.47 L762.60,403.35 L763.60,403.22 L764.60,403.10 L765.60,402.98 L766.60,402.86 L767.60,402.74 L768.60,402.62 L769.60,402.50 L770.60,402.38 L771.60,402.26 L772.60,402.14 L773.60,402.02 L774.60,401.90 L775.60,401.78 L776.60,401.66 L777.60,401.54 L778.60,401.42 L779.60,401.30 L780.60,401.18 L781.60,401.06 L782.60,400.94 L783.60,400.82 L784.60,400.70 L785.60,400.58 L786.60,400.46 L787.60,400.34 L788.60,400.22 L789.60,400.10 L790.60,399.98 L791.60,399.86 L792.60,399.74 L793.60,399.62 L794.60,399.50 L795.60,399.38 L796.60,399.25 L797.60,399.13 L798.60,399.01 L799.60,398.89 L800.60,398.77 L801.60,398.65 L802.60,398.52 L803.60,398.40 L804.60,398.28 L805.60,398.16 L806.60,398.03 L807.60,397.91 L808.60,397.79 L809.60,397.66 L810.60,397.54 L811.60,397.42 L812.60,397.29 L813.60,397.17 L814.60,397.04 L815.60,396.92 L816.60,396.79 L817.60,396.67 L818.60,396.54 L819.60,396.41 L820.60,396.29 L821.60,396.16 L822.60,396.03 L823.60,395.91 L824.60,395.78 L825.60,395.65 L826.60,395.52 L827.60,395.39 L828.60,395.26 L829.60,395.13 L830.60,395.00 L831.60,394.87 L832.60,394.74 L833.60,394.61 L834.60,394.48 L835.60,394.35 L836.60,394.22 L837.60,394.08 L838.60,393.95 L839.60,393.82 L840.60,393.68 L841.60,393.55 L842.60,393.41 L843.60,393.28 L844.60,393.14 L845.60,393.01 L846.60,392.87 L847.60,392.73 L848.60,392.60 L849.60,392.46 L850.60,392.32 L851.60,392.18 L852.60,392.04 L853.60,391.90 L854.60,391.76 L855.60,391.62 L856.60,391.47 L857.60,391.33 L858.60,391.19 L859.60,391.04 L860.60,390.90 L861.60,390.75 L862.60,390.61 L863.60,390.46 L864.60,390.31 L865.60,390.17 L866.60,390.02 L867.60,389.87 L868.60,389.72 L869.60,389.57 L870.60,389.42 L871.60,389.27 L872.60,389.11 L873.60,388.96 L874.60,388.81 L875.60,388.65 L876.60,388.50 L877.60,388.34 L878.60,388.18 L879.60,388.03 L880.60,387.87 L881.60,387.71 L882.60,387.55 L883.60,387.39 L884.60,387.23 L885.60,387.06 L886.60,386.90 L887.60,386.74 L888.60,386.57 L889.60,386.41 L890.60,386.24 L891.60,386.07 L892.60,385.90 L893.60,385.74 L894.60,385.57 L895.60,385.40 L896.25,385.28" fill="none" stroke="#e23e58" stroke-width="4.7" stroke-linejoin="round"/>
<circle cx="463.7" cy="474.2" r="5.1" fill="#e23e58"/>
<path d="M80.40,672.20 L85.60,672.20" stroke="#333333" stroke-width="2.1" fill="none" stroke-linecap="butt"/>
<text transform="translate(76.50,677.80)" class="tk" text-anchor="end">0</text>
<path d="M80.40,474.10 L85.60,474.10" stroke="#333333" stroke-width="2.1" fill="none" stroke-linecap="butt"/>
<text transform="translate(76.50,479.70)" class="tk" text-anchor="end">1</text>
<path d="M80.40,276.00 L85.60,276.00" stroke="#333333" stroke-width="2.1" fill="none" stroke-linecap="butt"/>
<text transform="translate(76.50,281.60)" class="tk" text-anchor="end">2</text>
<path d="M80.40,77.90 L85.60,77.90" stroke="#333333" stroke-width="2.1" fill="none" stroke-linecap="butt"/>
<text transform="translate(76.50,83.50)" class="tk" text-anchor="end">3</text>
<path d="M896.25,672.20 L901.25,672.20" stroke="#333333" stroke-width="2.1" fill="none" stroke-linecap="butt"/>
<text transform="translate(904.95,677.80)" class="tk">0</text>
<path d="M896.25,523.62 L901.25,523.62" stroke="#333333" stroke-width="2.1" fill="none" stroke-linecap="butt"/>
<text transform="translate(904.95,529.23)" class="tk">5</text>
<path d="M896.25,375.05 L901.25,375.05" stroke="#333333" stroke-width="2.1" fill="none" stroke-linecap="butt"/>
<text transform="translate(904.95,380.65)" class="tk">10</text>
<path d="M896.25,226.48 L901.25,226.48" stroke="#333333" stroke-width="2.1" fill="none" stroke-linecap="butt"/>
<text transform="translate(904.95,232.08)" class="tk">15</text>
<path d="M896.25,77.90 L901.25,77.90" stroke="#333333" stroke-width="2.1" fill="none" stroke-linecap="butt"/>
<text transform="translate(904.95,83.50)" class="tk">20</text>
<path d="M238.90,672.20 L238.90,677.70" stroke="#333333" stroke-width="2.1" fill="none" stroke-linecap="butt"/>
<path d="M463.60,672.20 L463.60,677.70" stroke="#333333" stroke-width="2.1" fill="none" stroke-linecap="butt"/>
<path d="M688.75,672.20 L688.75,677.70" stroke="#333333" stroke-width="2.1" fill="none" stroke-linecap="butt"/>
<path d="M85.60,76.85 L85.60,672.20" stroke="#000" stroke-width="2.1" fill="none" stroke-linecap="butt"/>
<path d="M896.25,76.85 L896.25,672.20" stroke="#000" stroke-width="2.1" fill="none" stroke-linecap="butt"/>
<path d="M84.55,672.20 L897.30,672.20" stroke="#000" stroke-width="2.1" fill="none" stroke-linecap="butt"/>
<rect x="1078.90" y="619.31" width="42.79" height="54.99" fill="#f9f7f8" stroke="#bebebe" stroke-width="1.9"/>
<rect x="1121.69" y="656.04" width="42.79" height="18.26" fill="#f9f7f8" stroke="#bebebe" stroke-width="1.9"/>
<rect x="1164.48" y="573.34" width="42.79" height="100.96" fill="#f9f7f8" stroke="#bebebe" stroke-width="1.9"/>
<rect x="1207.27" y="527.38" width="42.79" height="146.92" fill="#f9f7f8" stroke="#bebebe" stroke-width="1.9"/>
<rect x="1250.06" y="490.95" width="42.79" height="183.35" fill="#f9f7f8" stroke="#bebebe" stroke-width="1.9"/>
<rect x="1292.85" y="518.05" width="42.79" height="156.25" fill="#f9f7f8" stroke="#bebebe" stroke-width="1.9"/>
<rect x="1335.64" y="408.06" width="42.79" height="266.24" fill="#f9f7f8" stroke="#bebebe" stroke-width="1.9"/>
<rect x="1378.43" y="380.77" width="42.79" height="293.53" fill="#f9f7f8" stroke="#bebebe" stroke-width="1.9"/>
<rect x="1421.22" y="362.40" width="42.79" height="311.90" fill="#f9f7f8" stroke="#bebebe" stroke-width="1.9"/>
<rect x="1464.01" y="426.53" width="42.79" height="247.77" fill="#f9f7f8" stroke="#bebebe" stroke-width="1.9"/>
<rect x="1506.79" y="362.40" width="42.79" height="311.90" fill="#f9f7f8" stroke="#bebebe" stroke-width="1.9"/>
<rect x="1549.58" y="472.39" width="42.79" height="201.91" fill="#f9f7f8" stroke="#bebebe" stroke-width="1.9"/>
<rect x="1592.37" y="499.99" width="42.79" height="174.31" fill="#f9f7f8" stroke="#bebebe" stroke-width="1.9"/>
<rect x="1635.16" y="509.22" width="42.79" height="165.08" fill="#f9f7f8" stroke="#bebebe" stroke-width="1.9"/>
<rect x="1677.95" y="564.21" width="42.79" height="110.09" fill="#f9f7f8" stroke="#bebebe" stroke-width="1.9"/>
<rect x="1720.74" y="527.38" width="42.79" height="146.92" fill="#f9f7f8" stroke="#bebebe" stroke-width="1.9"/>
<rect x="1763.53" y="610.17" width="42.79" height="64.13" fill="#f9f7f8" stroke="#bebebe" stroke-width="1.9"/>
<rect x="1806.32" y="656.14" width="42.79" height="18.16" fill="#f9f7f8" stroke="#bebebe" stroke-width="1.9"/>
<rect x="1849.11" y="665.17" width="42.79" height="9.13" fill="#f9f7f8" stroke="#bebebe" stroke-width="1.9"/>
<line x1="1078.90" y1="599.75" x2="1891.90" y2="599.75" stroke="#bebebe" stroke-width="3.4" stroke-dasharray="16.0 16.0"/>
<path d="M1078.90,610.14 L1080.40,610.11 L1081.90,610.08 L1083.40,610.05 L1084.90,610.02 L1086.40,609.99 L1087.90,609.96 L1089.40,609.94 L1090.90,609.91 L1092.40,609.89 L1093.90,609.86 L1095.40,609.84 L1096.90,609.81 L1098.40,609.79 L1099.90,609.77 L1101.40,609.75 L1102.90,609.73 L1104.40,609.71 L1105.90,609.69 L1107.40,609.68 L1108.90,609.66 L1110.40,609.64 L1111.90,609.63 L1113.40,609.61 L1114.90,609.60 L1116.40,609.58 L1117.90,609.57 L1119.40,609.56 L1120.90,609.55 L1122.40,609.54 L1123.90,609.53 L1125.40,609.52 L1126.90,609.51 L1128.40,609.50 L1129.90,609.49 L1131.40,609.48 L1132.90,609.47 L1134.40,609.47 L1135.90,609.46 L1137.40,609.46 L1138.90,609.45 L1140.40,609.45 L1141.90,609.44 L1143.40,609.44 L1144.90,609.43 L1146.40,609.43 L1147.90,609.43 L1149.40,609.43 L1150.90,609.42 L1152.40,609.42 L1153.90,609.42 L1155.40,609.42 L1156.90,609.42 L1158.40,609.42 L1159.90,609.42 L1161.40,609.42 L1162.90,609.42 L1164.40,609.42 L1165.90,609.43 L1167.40,609.43 L1168.90,609.43 L1170.40,609.43 L1171.90,609.43 L1173.40,609.44 L1174.90,609.44 L1176.40,609.44 L1177.90,609.45 L1179.40,609.45 L1180.90,609.45 L1182.40,609.46 L1183.90,609.46 L1185.40,609.46 L1186.90,609.47 L1188.40,609.47 L1189.90,609.48 L1191.40,609.48 L1192.90,609.48 L1194.40,609.49 L1195.90,609.49 L1197.40,609.50 L1198.90,609.50 L1200.40,609.51 L1201.90,609.51 L1203.40,609.52 L1204.90,609.52 L1206.40,609.52 L1207.90,609.53 L1209.40,609.53 L1210.90,609.54 L1212.40,609.54 L1213.90,609.55 L1215.40,609.55 L1216.90,609.55 L1218.40,609.56 L1219.90,609.56 L1221.40,609.56 L1222.90,609.57 L1224.40,609.57 L1225.90,609.57 L1227.40,609.58 L1228.90,609.58 L1230.40,609.58 L1231.90,609.58 L1233.40,609.58 L1234.90,609.59 L1236.40,609.59 L1237.90,609.59 L1239.40,609.59 L1240.90,609.59 L1242.40,609.59 L1243.90,609.59 L1245.40,609.59 L1246.90,609.59 L1248.40,609.58 L1249.90,609.58 L1251.40,609.58 L1252.90,609.58 L1254.40,609.58 L1255.90,609.57 L1257.40,609.57 L1258.90,609.56 L1260.40,609.56 L1261.90,609.55 L1263.40,609.55 L1264.90,609.54 L1266.40,609.54 L1267.90,609.53 L1269.40,609.52 L1270.90,609.51 L1272.40,609.50 L1273.90,609.49 L1275.40,609.48 L1276.90,609.47 L1278.40,609.46 L1279.90,609.45 L1281.40,609.44 L1282.90,609.43 L1284.40,609.41 L1285.90,609.40 L1287.40,609.38 L1288.90,609.37 L1290.40,609.35 L1291.90,609.33 L1293.40,609.32 L1294.90,609.30 L1296.40,609.28 L1297.90,609.26 L1299.40,609.24 L1300.90,609.22 L1302.40,609.19 L1303.90,609.17 L1305.40,609.15 L1306.90,609.12 L1308.40,609.10 L1309.90,609.07 L1311.40,609.04 L1312.90,609.01 L1314.40,608.98 L1315.90,608.95 L1317.40,608.92 L1318.90,608.89 L1320.40,608.86 L1321.90,608.83 L1323.40,608.79 L1324.90,608.75 L1326.40,608.72 L1327.90,608.68 L1329.40,608.64 L1330.90,608.60 L1332.40,608.56 L1333.90,608.52 L1335.40,608.48 L1336.90,608.43 L1338.40,608.39 L1339.90,608.34 L1341.40,608.29 L1342.90,608.24 L1344.40,608.20 L1345.90,608.14 L1347.40,608.09 L1348.90,608.04 L1350.40,607.98 L1351.90,607.93 L1353.40,607.87 L1354.90,607.81 L1356.40,607.75 L1357.90,607.69 L1359.40,607.63 L1360.90,607.57 L1362.40,607.50 L1363.90,607.44 L1365.40,607.37 L1366.90,607.30 L1368.40,607.23 L1369.90,607.16 L1371.40,607.08 L1372.90,607.01 L1374.40,606.93 L1375.90,606.86 L1377.40,606.78 L1378.90,606.70 L1380.40,606.61 L1381.90,606.53 L1383.40,606.45 L1384.90,606.36 L1386.40,606.27 L1387.90,606.18 L1389.40,606.09 L1390.90,605.99 L1392.40,605.90 L1393.90,605.80 L1395.40,605.70 L1396.90,605.60 L1398.40,605.50 L1399.90,605.40 L1401.40,605.29 L1402.90,605.19 L1404.40,605.08 L1405.90,604.96 L1407.40,604.85 L1408.90,604.74 L1410.40,604.62 L1411.90,604.50 L1413.40,604.38 L1414.90,604.26 L1416.40,604.13 L1417.90,604.01 L1419.40,603.88 L1420.90,603.75 L1422.40,603.61 L1423.90,603.48 L1425.40,603.34 L1426.90,603.20 L1428.40,603.06 L1429.90,602.92 L1431.40,602.77 L1432.90,602.62 L1434.40,602.47 L1435.90,602.32 L1437.40,602.16 L1438.90,602.00 L1440.40,601.84 L1441.90,601.68 L1443.40,601.52 L1444.90,601.35 L1446.40,601.18 L1447.90,601.01 L1449.40,600.83 L1450.90,600.65 L1452.40,600.47 L1453.90,600.29 L1455.40,600.10 L1456.90,599.92 L1457.80,599.80 L1459.30,598.86 L1460.80,597.91 L1462.30,596.96 L1463.80,596.01 L1465.30,595.06 L1466.80,594.10 L1468.30,593.14 L1469.80,592.18 L1471.30,591.21 L1472.80,590.24 L1474.30,589.27 L1475.80,588.30 L1477.30,587.32 L1478.80,586.35 L1480.30,585.37 L1481.80,584.39 L1483.30,583.40 L1484.80,582.42 L1486.30,581.43 L1487.80,580.44 L1489.30,579.45 L1490.80,578.46 L1492.30,577.47 L1493.80,576.47 L1495.30,575.48 L1496.80,574.48 L1498.30,573.48 L1499.80,572.48 L1501.30,571.48 L1502.80,570.48 L1504.30,569.48 L1505.80,568.47 L1507.30,567.47 L1508.80,566.46 L1510.30,565.46 L1511.80,564.45 L1513.30,563.44 L1514.80,562.43 L1516.30,561.42 L1517.80,560.41 L1519.30,559.40 L1520.80,558.39 L1522.30,557.38 L1523.80,556.37 L1525.30,555.36 L1526.80,554.34 L1528.30,553.33 L1529.80,552.32 L1531.30,551.30 L1532.80,550.29 L1534.30,549.27 L1535.80,548.25 L1537.30,547.24 L1538.80,546.22 L1540.30,545.20 L1541.80,544.19 L1543.30,543.17 L1544.80,542.15 L1546.30,541.13 L1547.80,540.11 L1549.30,539.09 L1550.80,538.07 L1552.30,537.04 L1553.80,536.02 L1555.30,535.00 L1556.80,533.97 L1558.30,532.95 L1559.80,531.92 L1561.30,530.89 L1562.80,529.86 L1564.30,528.83 L1565.80,527.80 L1567.30,526.77 L1568.80,525.73 L1570.30,524.70 L1571.80,523.66 L1573.30,522.62 L1574.80,521.58 L1576.30,520.54 L1577.80,519.50 L1579.30,518.45 L1580.80,517.40 L1582.30,516.35 L1583.80,515.30 L1585.30,514.24 L1586.80,513.19 L1588.30,512.13 L1589.80,511.06 L1591.30,510.00 L1592.80,508.93 L1594.30,507.85 L1595.80,506.78 L1597.30,505.70 L1598.80,504.61 L1600.30,503.53 L1601.80,502.44 L1603.30,501.34 L1604.80,500.24 L1606.30,499.14 L1607.80,498.03 L1609.30,496.91 L1610.80,495.79 L1612.30,494.67 L1613.80,493.54 L1615.30,492.40 L1616.80,491.26 L1618.30,490.11 L1619.80,488.96 L1621.30,487.80 L1622.80,486.63 L1624.30,485.46 L1625.80,484.28 L1627.30,483.10 L1628.80,481.91 L1630.30,480.71 L1631.80,479.51 L1633.30,478.30 L1634.80,477.08 L1636.30,475.86 L1637.80,474.63 L1639.30,473.40 L1640.80,472.16 L1642.30,470.92 L1643.80,469.67 L1645.30,468.41 L1646.80,467.15 L1648.30,465.88 L1649.80,464.61 L1651.30,463.34 L1652.80,462.05 L1654.30,460.77 L1655.80,459.48 L1657.30,458.18 L1658.80,456.88 L1660.30,455.57 L1661.80,454.26 L1663.30,452.94 L1664.80,451.62 L1666.30,450.30 L1667.80,448.97 L1669.30,447.63 L1670.80,446.30 L1672.30,444.95 L1673.80,443.61 L1675.30,442.26 L1676.80,440.91 L1678.30,439.55 L1679.80,438.19 L1681.30,436.83 L1682.80,435.46 L1684.30,434.09 L1685.80,432.72 L1687.30,431.34 L1688.80,429.96 L1690.30,428.58 L1691.80,427.20 L1693.30,425.81 L1694.80,424.43 L1696.30,423.04 L1697.80,421.64 L1699.30,420.25 L1700.80,418.85 L1702.30,417.45 L1703.80,416.05 L1705.30,414.64 L1706.80,413.23 L1708.30,411.81 L1709.80,410.39 L1711.30,408.97 L1712.80,407.53 L1714.30,406.09 L1715.80,404.65 L1717.30,403.19 L1718.80,401.73 L1720.30,400.26 L1721.80,398.78 L1723.30,397.29 L1724.80,395.79 L1726.30,394.27 L1727.80,392.75 L1729.30,391.21 L1730.80,389.67 L1732.30,388.10 L1733.80,386.53 L1735.30,384.94 L1736.80,383.33 L1738.30,381.71 L1739.80,380.07 L1741.30,378.42 L1742.80,376.74 L1744.30,375.05 L1745.80,373.34 L1747.30,371.60 L1748.80,369.85 L1750.30,368.08 L1751.80,366.28 L1753.30,364.47 L1754.80,362.64 L1756.30,360.78 L1757.80,358.91 L1759.30,357.01 L1760.80,355.10 L1762.30,353.16 L1763.80,351.20 L1765.30,349.23 L1766.80,347.23 L1768.30,345.21 L1769.80,343.17 L1771.30,341.11 L1772.80,339.03 L1774.30,336.92 L1775.80,334.80 L1777.30,332.66 L1778.80,330.49 L1780.30,328.30 L1781.80,326.09 L1783.30,323.86 L1784.80,321.61 L1786.30,319.34 L1787.80,317.05 L1789.30,314.73 L1790.80,312.40 L1792.30,310.04 L1793.80,307.66 L1795.30,305.26 L1796.80,302.84 L1798.30,300.39 L1799.80,297.93 L1801.30,295.44 L1802.80,292.94 L1804.30,290.41 L1805.80,287.86 L1807.30,285.29 L1808.80,282.70 L1810.30,280.09 L1811.80,277.46 L1813.30,274.80 L1814.80,272.13 L1816.30,269.44 L1817.80,266.72 L1819.30,263.99 L1820.80,261.24 L1822.30,258.46 L1823.80,255.67 L1825.30,252.86 L1826.80,250.03 L1828.30,247.17 L1829.80,244.30 L1831.30,241.42 L1832.80,238.51 L1834.30,235.58 L1835.80,232.64 L1837.30,229.68 L1838.80,226.70 L1840.30,223.70 L1841.80,220.69 L1843.30,217.65 L1844.80,214.60 L1846.30,211.53 L1847.80,208.44 L1849.30,205.33 L1850.80,202.21 L1852.30,199.06 L1853.80,195.89 L1855.30,192.71 L1856.80,189.50 L1858.30,186.27 L1859.80,183.02 L1861.30,179.76 L1862.80,176.47 L1864.30,173.16 L1865.80,169.82 L1867.30,166.47 L1868.80,163.10 L1870.30,159.70 L1871.80,156.28 L1873.30,152.83 L1874.80,149.37 L1876.30,145.88 L1877.80,142.37 L1879.30,138.83 L1880.80,135.27 L1882.30,131.68 L1883.80,128.07 L1885.30,124.44 L1886.80,120.78 L1888.30,117.09 L1889.80,113.38 L1891.30,109.65 L1891.90,108.14 L1891.90,478.88 L1891.30,479.04 L1889.80,479.45 L1888.30,479.86 L1886.80,480.28 L1885.30,480.69 L1883.80,481.11 L1882.30,481.53 L1880.80,481.96 L1879.30,482.38 L1877.80,482.81 L1876.30,483.24 L1874.80,483.67 L1873.30,484.10 L1871.80,484.54 L1870.30,484.98 L1868.80,485.42 L1867.30,485.86 L1865.80,486.30 L1864.30,486.75 L1862.80,487.20 L1861.30,487.64 L1859.80,488.10 L1858.30,488.55 L1856.80,489.00 L1855.30,489.46 L1853.80,489.92 L1852.30,490.38 L1850.80,490.84 L1849.30,491.30 L1847.80,491.76 L1846.30,492.23 L1844.80,492.70 L1843.30,493.17 L1841.80,493.64 L1840.30,494.11 L1838.80,494.58 L1837.30,495.05 L1835.80,495.53 L1834.30,496.00 L1832.80,496.48 L1831.30,496.96 L1829.80,497.44 L1828.30,497.92 L1826.80,498.40 L1825.30,498.89 L1823.80,499.37 L1822.30,499.85 L1820.80,500.34 L1819.30,500.83 L1817.80,501.31 L1816.30,501.80 L1814.80,502.29 L1813.30,502.78 L1811.80,503.27 L1810.30,503.76 L1808.80,504.25 L1807.30,504.75 L1805.80,505.24 L1804.30,505.73 L1802.80,506.23 L1801.30,506.72 L1799.80,507.22 L1798.30,507.72 L1796.80,508.21 L1795.30,508.71 L1793.80,509.21 L1792.30,509.70 L1790.80,510.20 L1789.30,510.70 L1787.80,511.20 L1786.30,511.70 L1784.80,512.20 L1783.30,512.70 L1781.80,513.20 L1780.30,513.70 L1778.80,514.20 L1777.30,514.70 L1775.80,515.20 L1774.30,515.70 L1772.80,516.20 L1771.30,516.70 L1769.80,517.20 L1768.30,517.70 L1766.80,518.20 L1765.30,518.70 L1763.80,519.20 L1762.30,519.70 L1760.80,520.20 L1759.30,520.70 L1757.80,521.20 L1756.30,521.70 L1754.80,522.20 L1753.30,522.70 L1751.80,523.19 L1750.30,523.69 L1748.80,524.19 L1747.30,524.69 L1745.80,525.19 L1744.30,525.68 L1742.80,526.18 L1741.30,526.67 L1739.80,527.17 L1738.30,527.67 L1736.80,528.16 L1735.30,528.65 L1733.80,529.15 L1732.30,529.64 L1730.80,530.13 L1729.30,530.63 L1727.80,531.12 L1726.30,531.61 L1724.80,532.10 L1723.30,532.59 L1721.80,533.08 L1720.30,533.56 L1718.80,534.05 L1717.30,534.54 L1715.80,535.02 L1714.30,535.51 L1712.80,535.99 L1711.30,536.48 L1709.80,536.96 L1708.30,537.44 L1706.80,537.92 L1705.30,538.40 L1703.80,538.88 L1702.30,539.36 L1700.80,539.84 L1699.30,540.32 L1697.80,540.79 L1696.30,541.27 L1694.80,541.74 L1693.30,542.22 L1691.80,542.69 L1690.30,543.16 L1688.80,543.63 L1687.30,544.10 L1685.80,544.57 L1684.30,545.04 L1682.80,545.50 L1681.30,545.97 L1679.80,546.43 L1678.30,546.89 L1676.80,547.36 L1675.30,547.82 L1673.80,548.28 L1672.30,548.73 L1670.80,549.19 L1669.30,549.65 L1667.80,550.10 L1666.30,550.56 L1664.80,551.01 L1663.30,551.46 L1661.80,551.91 L1660.30,552.36 L1658.80,552.81 L1657.30,553.26 L1655.80,553.70 L1654.30,554.15 L1652.80,554.59 L1651.30,555.03 L1649.80,555.47 L1648.30,555.91 L1646.80,556.35 L1645.30,556.78 L1643.80,557.22 L1642.30,557.65 L1640.80,558.09 L1639.30,558.52 L1637.80,558.95 L1636.30,559.38 L1634.80,559.80 L1633.30,560.23 L1631.80,560.65 L1630.30,561.08 L1628.80,561.50 L1627.30,561.92 L1625.80,562.34 L1624.30,562.76 L1622.80,563.17 L1621.30,563.59 L1619.80,564.00 L1618.30,564.41 L1616.80,564.82 L1615.30,565.23 L1613.80,565.64 L1612.30,566.05 L1610.80,566.45 L1609.30,566.85 L1607.80,567.26 L1606.30,567.66 L1604.80,568.06 L1603.30,568.45 L1601.80,568.85 L1600.30,569.24 L1598.80,569.64 L1597.30,570.03 L1595.80,570.42 L1594.30,570.81 L1592.80,571.20 L1591.30,571.58 L1589.80,571.97 L1588.30,572.35 L1586.80,572.73 L1585.30,573.11 L1583.80,573.49 L1582.30,573.86 L1580.80,574.24 L1579.30,574.61 L1577.80,574.99 L1576.30,575.36 L1574.80,575.73 L1573.30,576.09 L1571.80,576.46 L1570.30,576.82 L1568.80,577.19 L1567.30,577.55 L1565.80,577.91 L1564.30,578.27 L1562.80,578.62 L1561.30,578.98 L1559.80,579.33 L1558.30,579.69 L1556.80,580.04 L1555.30,580.39 L1553.80,580.73 L1552.30,581.08 L1550.80,581.42 L1549.30,581.77 L1547.80,582.11 L1546.30,582.45 L1544.80,582.79 L1543.30,583.12 L1541.80,583.46 L1540.30,583.79 L1538.80,584.13 L1537.30,584.46 L1535.80,584.79 L1534.30,585.11 L1532.80,585.44 L1531.30,585.76 L1529.80,586.09 L1528.30,586.41 L1526.80,586.73 L1525.30,587.05 L1523.80,587.36 L1522.30,587.68 L1520.80,587.99 L1519.30,588.30 L1517.80,588.62 L1516.30,588.92 L1514.80,589.23 L1513.30,589.54 L1511.80,589.84 L1510.30,590.15 L1508.80,590.45 L1507.30,590.75 L1505.80,591.05 L1504.30,591.34 L1502.80,591.64 L1501.30,591.93 L1499.80,592.22 L1498.30,592.52 L1496.80,592.80 L1495.30,593.09 L1493.80,593.38 L1492.30,593.66 L1490.80,593.95 L1489.30,594.23 L1487.80,594.51 L1486.30,594.79 L1484.80,595.06 L1483.30,595.34 L1481.80,595.61 L1480.30,595.89 L1478.80,596.16 L1477.30,596.43 L1475.80,596.70 L1474.30,596.96 L1472.80,597.23 L1471.30,597.49 L1469.80,597.76 L1468.30,598.02 L1466.80,598.28 L1465.30,598.53 L1463.80,598.79 L1462.30,599.04 L1460.80,599.30 L1459.30,599.55 L1457.80,599.80 L1456.90,600.36 L1455.40,601.28 L1453.90,602.20 L1452.40,603.11 L1450.90,604.02 L1449.40,604.92 L1447.90,605.81 L1446.40,606.71 L1444.90,607.59 L1443.40,608.47 L1441.90,609.35 L1440.40,610.21 L1438.90,611.07 L1437.40,611.93 L1435.90,612.78 L1434.40,613.62 L1432.90,614.45 L1431.40,615.28 L1429.90,616.11 L1428.40,616.92 L1426.90,617.73 L1425.40,618.53 L1423.90,619.32 L1422.40,620.11 L1420.90,620.89 L1419.40,621.66 L1417.90,622.42 L1416.40,623.18 L1414.90,623.93 L1413.40,624.67 L1411.90,625.40 L1410.40,626.13 L1408.90,626.85 L1407.40,627.56 L1405.90,628.26 L1404.40,628.96 L1402.90,629.65 L1401.40,630.33 L1399.90,631.00 L1398.40,631.66 L1396.90,632.32 L1395.40,632.97 L1393.90,633.61 L1392.40,634.25 L1390.90,634.87 L1389.40,635.49 L1387.90,636.10 L1386.40,636.70 L1384.90,637.30 L1383.40,637.89 L1381.90,638.47 L1380.40,639.04 L1378.90,639.61 L1377.40,640.16 L1375.90,640.71 L1374.40,641.26 L1372.90,641.79 L1371.40,642.32 L1369.90,642.84 L1368.40,643.36 L1366.90,643.86 L1365.40,644.36 L1363.90,644.86 L1362.40,645.34 L1360.90,645.82 L1359.40,646.29 L1357.90,646.76 L1356.40,647.22 L1354.90,647.67 L1353.40,648.11 L1351.90,648.55 L1350.40,648.98 L1348.90,649.41 L1347.40,649.83 L1345.90,650.24 L1344.40,650.64 L1342.90,651.04 L1341.40,651.44 L1339.90,651.82 L1338.40,652.21 L1336.90,652.58 L1335.40,652.95 L1333.90,653.31 L1332.40,653.67 L1330.90,654.02 L1329.40,654.37 L1327.90,654.71 L1326.40,655.05 L1324.90,655.38 L1323.40,655.70 L1321.90,656.02 L1320.40,656.33 L1318.90,656.64 L1317.40,656.95 L1315.90,657.24 L1314.40,657.54 L1312.90,657.83 L1311.40,658.11 L1309.90,658.39 L1308.40,658.66 L1306.90,658.93 L1305.40,659.20 L1303.90,659.46 L1302.40,659.71 L1300.90,659.97 L1299.40,660.21 L1297.90,660.46 L1296.40,660.69 L1294.90,660.93 L1293.40,661.16 L1291.90,661.39 L1290.40,661.61 L1288.90,661.83 L1287.40,662.04 L1285.90,662.25 L1284.40,662.46 L1282.90,662.66 L1281.40,662.86 L1279.90,663.06 L1278.40,663.25 L1276.90,663.44 L1275.40,663.63 L1273.90,663.81 L1272.40,663.99 L1270.90,664.16 L1269.40,664.34 L1267.90,664.51 L1266.40,664.67 L1264.90,664.84 L1263.40,665.00 L1261.90,665.15 L1260.40,665.31 L1258.90,665.46 L1257.40,665.61 L1255.90,665.76 L1254.40,665.90 L1252.90,666.04 L1251.40,666.18 L1249.90,666.31 L1248.40,666.45 L1246.90,666.58 L1245.40,666.71 L1243.90,666.83 L1242.40,666.96 L1240.90,667.08 L1239.40,667.20 L1237.90,667.31 L1236.40,667.43 L1234.90,667.54 L1233.40,667.65 L1231.90,667.76 L1230.40,667.86 L1228.90,667.97 L1227.40,668.07 L1225.90,668.17 L1224.40,668.27 L1222.90,668.37 L1221.40,668.46 L1219.90,668.55 L1218.40,668.65 L1216.90,668.73 L1215.40,668.82 L1213.90,668.91 L1212.40,668.99 L1210.90,669.08 L1209.40,669.16 L1207.90,669.24 L1206.40,669.31 L1204.90,669.39 L1203.40,669.47 L1201.90,669.54 L1200.40,669.61 L1198.90,669.68 L1197.40,669.75 L1195.90,669.82 L1194.40,669.89 L1192.90,669.95 L1191.40,670.02 L1189.90,670.08 L1188.40,670.14 L1186.90,670.20 L1185.40,670.26 L1183.90,670.32 L1182.40,670.38 L1180.90,670.44 L1179.40,670.49 L1177.90,670.55 L1176.40,670.60 L1174.90,670.65 L1173.40,670.70 L1171.90,670.75 L1170.40,670.80 L1168.90,670.85 L1167.40,670.90 L1165.90,670.94 L1164.40,670.99 L1162.90,671.03 L1161.40,671.07 L1159.90,671.12 L1158.40,671.16 L1156.90,671.20 L1155.40,671.24 L1153.90,671.28 L1152.40,671.32 L1150.90,671.36 L1149.40,671.39 L1147.90,671.43 L1146.40,671.47 L1144.90,671.50 L1143.40,671.53 L1141.90,671.57 L1140.40,671.60 L1138.90,671.63 L1137.40,671.67 L1135.90,671.70 L1134.40,671.73 L1132.90,671.76 L1131.40,671.79 L1129.90,671.81 L1128.40,671.84 L1126.90,671.87 L1125.40,671.90 L1123.90,671.92 L1122.40,671.95 L1120.90,671.97 L1119.40,672.00 L1117.90,672.02 L1116.40,672.05 L1114.90,672.07 L1113.40,672.09 L1111.90,672.11 L1110.40,672.13 L1108.90,672.16 L1107.40,672.18 L1105.90,672.20 L1104.40,672.22 L1102.90,672.24 L1101.40,672.26 L1099.90,672.27 L1098.40,672.29 L1096.90,672.31 L1095.40,672.33 L1093.90,672.34 L1092.40,672.36 L1090.90,672.38 L1089.40,672.39 L1087.90,672.41 L1086.40,672.42 L1084.90,672.44 L1083.40,672.45 L1081.90,672.47 L1080.40,672.48 L1078.90,672.49 Z" fill="#e23e58" fill-opacity="0.1" stroke="none"/>
<path d="M1078.90,667.47 L1079.90,667.43 L1080.90,667.39 L1081.90,667.35 L1082.90,667.31 L1083.90,667.27 L1084.90,667.23 L1085.90,667.18 L1086.90,667.14 L1087.90,667.10 L1088.90,667.06 L1089.90,667.02 L1090.90,666.97 L1091.90,666.93 L1092.90,666.89 L1093.90,666.84 L1094.90,666.80 L1095.90,666.75 L1096.90,666.71 L1097.90,666.66 L1098.90,666.62 L1099.90,666.57 L1100.90,666.52 L1101.90,666.47 L1102.90,666.43 L1103.90,666.38 L1104.90,666.33 L1105.90,666.28 L1106.90,666.23 L1107.90,666.18 L1108.90,666.13 L1109.90,666.08 L1110.90,666.03 L1111.90,665.98 L1112.90,665.93 L1113.90,665.88 L1114.90,665.82 L1115.90,665.77 L1116.90,665.72 L1117.90,665.66 L1118.90,665.61 L1119.90,665.55 L1120.90,665.50 L1121.90,665.44 L1122.90,665.39 L1123.90,665.33 L1124.90,665.27 L1125.90,665.22 L1126.90,665.16 L1127.90,665.10 L1128.90,665.04 L1129.90,664.98 L1130.90,664.92 L1131.90,664.86 L1132.90,664.80 L1133.90,664.74 L1134.90,664.68 L1135.90,664.61 L1136.90,664.55 L1137.90,664.49 L1138.90,664.42 L1139.90,664.36 L1140.90,664.30 L1141.90,664.23 L1142.90,664.16 L1143.90,664.10 L1144.90,664.03 L1145.90,663.96 L1146.90,663.89 L1147.90,663.83 L1148.90,663.76 L1149.90,663.69 L1150.90,663.62 L1151.90,663.55 L1152.90,663.47 L1153.90,663.40 L1154.90,663.33 L1155.90,663.26 L1156.90,663.18 L1157.90,663.11 L1158.90,663.03 L1159.90,662.96 L1160.90,662.88 L1161.90,662.81 L1162.90,662.73 L1163.90,662.65 L1164.90,662.57 L1165.90,662.49 L1166.90,662.41 L1167.90,662.33 L1168.90,662.25 L1169.90,662.17 L1170.90,662.09 L1171.90,662.01 L1172.90,661.92 L1173.90,661.84 L1174.90,661.75 L1175.90,661.67 L1176.90,661.58 L1177.90,661.50 L1178.90,661.41 L1179.90,661.32 L1180.90,661.23 L1181.90,661.14 L1182.90,661.05 L1183.90,660.96 L1184.90,660.87 L1185.90,660.78 L1186.90,660.68 L1187.90,660.59 L1188.90,660.50 L1189.90,660.40 L1190.90,660.31 L1191.90,660.21 L1192.90,660.11 L1193.90,660.01 L1194.90,659.92 L1195.90,659.82 L1196.90,659.72 L1197.90,659.62 L1198.90,659.51 L1199.90,659.41 L1200.90,659.31 L1201.90,659.21 L1202.90,659.10 L1203.90,658.99 L1204.90,658.89 L1205.90,658.78 L1206.90,658.67 L1207.90,658.57 L1208.90,658.46 L1209.90,658.35 L1210.90,658.23 L1211.90,658.12 L1212.90,658.01 L1213.90,657.90 L1214.90,657.78 L1215.90,657.67 L1216.90,657.55 L1217.90,657.44 L1218.90,657.32 L1219.90,657.20 L1220.90,657.08 L1221.90,656.96 L1222.90,656.84 L1223.90,656.72 L1224.90,656.59 L1225.90,656.47 L1226.90,656.35 L1227.90,656.22 L1228.90,656.09 L1229.90,655.97 L1230.90,655.84 L1231.90,655.71 L1232.90,655.58 L1233.90,655.45 L1234.90,655.32 L1235.90,655.19 L1236.90,655.05 L1237.90,654.92 L1238.90,654.78 L1239.90,654.65 L1240.90,654.51 L1241.90,654.37 L1242.90,654.23 L1243.90,654.09 L1244.90,653.95 L1245.90,653.81 L1246.90,653.67 L1247.90,653.52 L1248.90,653.38 L1249.90,653.23 L1250.90,653.08 L1251.90,652.94 L1252.90,652.79 L1253.90,652.64 L1254.90,652.49 L1255.90,652.34 L1256.90,652.18 L1257.90,652.03 L1258.90,651.87 L1259.90,651.72 L1260.90,651.56 L1261.90,651.40 L1262.90,651.25 L1263.90,651.09 L1264.90,650.92 L1265.90,650.76 L1266.90,650.60 L1267.90,650.44 L1268.90,650.27 L1269.90,650.10 L1270.90,649.94 L1271.90,649.77 L1272.90,649.60 L1273.90,649.43 L1274.90,649.26 L1275.90,649.08 L1276.90,648.91 L1277.90,648.74 L1278.90,648.56 L1279.90,648.38 L1280.90,648.21 L1281.90,648.03 L1282.90,647.85 L1283.90,647.66 L1284.90,647.48 L1285.90,647.30 L1286.90,647.11 L1287.90,646.93 L1288.90,646.74 L1289.90,646.55 L1290.90,646.37 L1291.90,646.17 L1292.90,645.98 L1293.90,645.79 L1294.90,645.60 L1295.90,645.40 L1296.90,645.21 L1297.90,645.01 L1298.90,644.81 L1299.90,644.61 L1300.90,644.41 L1301.90,644.21 L1302.90,644.01 L1303.90,643.80 L1304.90,643.60 L1305.90,643.39 L1306.90,643.19 L1307.90,642.98 L1308.90,642.77 L1309.90,642.56 L1310.90,642.35 L1311.90,642.13 L1312.90,641.92 L1313.90,641.70 L1314.90,641.49 L1315.90,641.27 L1316.90,641.05 L1317.90,640.83 L1318.90,640.61 L1319.90,640.39 L1320.90,640.16 L1321.90,639.94 L1322.90,639.71 L1323.90,639.49 L1324.90,639.26 L1325.90,639.03 L1326.90,638.80 L1327.90,638.57 L1328.90,638.34 L1329.90,638.10 L1330.90,637.87 L1331.90,637.63 L1332.90,637.39 L1333.90,637.16 L1334.90,636.92 L1335.90,636.68 L1336.90,636.43 L1337.90,636.19 L1338.90,635.95 L1339.90,635.70 L1340.90,635.46 L1341.90,635.21 L1342.90,634.96 L1343.90,634.71 L1344.90,634.46 L1345.90,634.21 L1346.90,633.95 L1347.90,633.70 L1348.90,633.44 L1349.90,633.19 L1350.90,632.93 L1351.90,632.67 L1352.90,632.41 L1353.90,632.15 L1354.90,631.89 L1355.90,631.62 L1356.90,631.36 L1357.90,631.09 L1358.90,630.83 L1359.90,630.56 L1360.90,630.29 L1361.90,630.02 L1362.90,629.75 L1363.90,629.48 L1364.90,629.21 L1365.90,628.93 L1366.90,628.66 L1367.90,628.38 L1368.90,628.11 L1369.90,627.83 L1370.90,627.55 L1371.90,627.27 L1372.90,626.99 L1373.90,626.71 L1374.90,626.43 L1375.90,626.14 L1376.90,625.86 L1377.90,625.57 L1378.90,625.28 L1379.90,625.00 L1380.90,624.71 L1381.90,624.42 L1382.90,624.13 L1383.90,623.84 L1384.90,623.54 L1385.90,623.25 L1386.90,622.96 L1387.90,622.66 L1388.90,622.37 L1389.90,622.07 L1390.90,621.77 L1391.90,621.47 L1392.90,621.17 L1393.90,620.87 L1394.90,620.57 L1395.90,620.27 L1396.90,619.96 L1397.90,619.66 L1398.90,619.35 L1399.90,619.05 L1400.90,618.74 L1401.90,618.43 L1402.90,618.12 L1403.90,617.81 L1404.90,617.50 L1405.90,617.19 L1406.90,616.88 L1407.90,616.57 L1408.90,616.25 L1409.90,615.94 L1410.90,615.62 L1411.90,615.30 L1412.90,614.98 L1413.90,614.67 L1414.90,614.35 L1415.90,614.02 L1416.90,613.70 L1417.90,613.38 L1418.90,613.06 L1419.90,612.73 L1420.90,612.41 L1421.90,612.08 L1422.90,611.75 L1423.90,611.43 L1424.90,611.10 L1425.90,610.77 L1426.90,610.44 L1427.90,610.11 L1428.90,609.77 L1429.90,609.44 L1430.90,609.11 L1431.90,608.77 L1432.90,608.44 L1433.90,608.10 L1434.90,607.76 L1435.90,607.42 L1436.90,607.08 L1437.90,606.74 L1438.90,606.40 L1439.90,606.06 L1440.90,605.72 L1441.90,605.38 L1442.90,605.03 L1443.90,604.69 L1444.90,604.34 L1445.90,603.99 L1446.90,603.65 L1447.90,603.30 L1448.90,602.95 L1449.90,602.60 L1450.90,602.25 L1451.90,601.89 L1452.90,601.54 L1453.90,601.19 L1454.90,600.83 L1455.90,600.48 L1456.90,600.12 L1457.90,599.77 L1458.90,599.41 L1459.90,599.05 L1460.90,598.69 L1461.90,598.33 L1462.90,597.97 L1463.90,597.61 L1464.90,597.24 L1465.90,596.88 L1466.90,596.52 L1467.90,596.15 L1468.90,595.78 L1469.90,595.42 L1470.90,595.05 L1471.90,594.68 L1472.90,594.31 L1473.90,593.94 L1474.90,593.57 L1475.90,593.20 L1476.90,592.83 L1477.90,592.45 L1478.90,592.08 L1479.90,591.71 L1480.90,591.33 L1481.90,590.95 L1482.90,590.58 L1483.90,590.20 L1484.90,589.82 L1485.90,589.44 L1486.90,589.06 L1487.90,588.68 L1488.90,588.30 L1489.90,587.91 L1490.90,587.53 L1491.90,587.15 L1492.90,586.76 L1493.90,586.37 L1494.90,585.99 L1495.90,585.60 L1496.90,585.21 L1497.90,584.82 L1498.90,584.43 L1499.90,584.04 L1500.90,583.65 L1501.90,583.26 L1502.90,582.87 L1503.90,582.47 L1504.90,582.08 L1505.90,581.68 L1506.90,581.29 L1507.90,580.89 L1508.90,580.49 L1509.90,580.10 L1510.90,579.70 L1511.90,579.30 L1512.90,578.90 L1513.90,578.50 L1514.90,578.09 L1515.90,577.69 L1516.90,577.29 L1517.90,576.88 L1518.90,576.48 L1519.90,576.07 L1520.90,575.67 L1521.90,575.26 L1522.90,574.85 L1523.90,574.44 L1524.90,574.03 L1525.90,573.62 L1526.90,573.21 L1527.90,572.80 L1528.90,572.39 L1529.90,571.97 L1530.90,571.56 L1531.90,571.14 L1532.90,570.73 L1533.90,570.31 L1534.90,569.90 L1535.90,569.48 L1536.90,569.06 L1537.90,568.64 L1538.90,568.22 L1539.90,567.80 L1540.90,567.38 L1541.90,566.96 L1542.90,566.53 L1543.90,566.11 L1544.90,565.68 L1545.90,565.26 L1546.90,564.83 L1547.90,564.41 L1548.90,563.98 L1549.90,563.55 L1550.90,563.12 L1551.90,562.69 L1552.90,562.26 L1553.90,561.83 L1554.90,561.40 L1555.90,560.96 L1556.90,560.53 L1557.90,560.10 L1558.90,559.66 L1559.90,559.23 L1560.90,558.79 L1561.90,558.35 L1562.90,557.91 L1563.90,557.48 L1564.90,557.04 L1565.90,556.60 L1566.90,556.15 L1567.90,555.71 L1568.90,555.27 L1569.90,554.83 L1570.90,554.38 L1571.90,553.94 L1572.90,553.49 L1573.90,553.05 L1574.90,552.60 L1575.90,552.15 L1576.90,551.70 L1577.90,551.25 L1578.90,550.80 L1579.90,550.35 L1580.90,549.90 L1581.90,549.45 L1582.90,548.99 L1583.90,548.54 L1584.90,548.08 L1585.90,547.63 L1586.90,547.17 L1587.90,546.72 L1588.90,546.26 L1589.90,545.80 L1590.90,545.34 L1591.90,544.88 L1592.90,544.42 L1593.90,543.96 L1594.90,543.49 L1595.90,543.03 L1596.90,542.56 L1597.90,542.10 L1598.90,541.63 L1599.90,541.17 L1600.90,540.70 L1601.90,540.23 L1602.90,539.76 L1603.90,539.29 L1604.90,538.82 L1605.90,538.35 L1606.90,537.88 L1607.90,537.40 L1608.90,536.93 L1609.90,536.45 L1610.90,535.98 L1611.90,535.50 L1612.90,535.02 L1613.90,534.54 L1614.90,534.06 L1615.90,533.58 L1616.90,533.10 L1617.90,532.62 L1618.90,532.14 L1619.90,531.65 L1620.90,531.17 L1621.90,530.68 L1622.90,530.20 L1623.90,529.71 L1624.90,529.22 L1625.90,528.73 L1626.90,528.24 L1627.90,527.75 L1628.90,527.26 L1629.90,526.77 L1630.90,526.27 L1631.90,525.78 L1632.90,525.28 L1633.90,524.79 L1634.90,524.29 L1635.90,523.79 L1636.90,523.29 L1637.90,522.79 L1638.90,522.29 L1639.90,521.79 L1640.90,521.28 L1641.90,520.78 L1642.90,520.27 L1643.90,519.77 L1644.90,519.26 L1645.90,518.75 L1646.90,518.24 L1647.90,517.73 L1648.90,517.22 L1649.90,516.71 L1650.90,516.19 L1651.90,515.68 L1652.90,515.16 L1653.90,514.65 L1654.90,514.13 L1655.90,513.61 L1656.90,513.09 L1657.90,512.57 L1658.90,512.05 L1659.90,511.52 L1660.90,511.00 L1661.90,510.47 L1662.90,509.95 L1663.90,509.42 L1664.90,508.89 L1665.90,508.36 L1666.90,507.83 L1667.90,507.30 L1668.90,506.76 L1669.90,506.23 L1670.90,505.69 L1671.90,505.16 L1672.90,504.62 L1673.90,504.08 L1674.90,503.54 L1675.90,503.00 L1676.90,502.45 L1677.90,501.91 L1678.90,501.36 L1679.90,500.82 L1680.90,500.27 L1681.90,499.72 L1682.90,499.17 L1683.90,498.62 L1684.90,498.06 L1685.90,497.51 L1686.90,496.95 L1687.90,496.40 L1688.90,495.84 L1689.90,495.28 L1690.90,494.72 L1691.90,494.15 L1692.90,493.59 L1693.90,493.02 L1694.90,492.46 L1695.90,491.89 L1696.90,491.32 L1697.90,490.75 L1698.90,490.18 L1699.90,489.60 L1700.90,489.03 L1701.90,488.45 L1702.90,487.87 L1703.90,487.29 L1704.90,486.71 L1705.90,486.13 L1706.90,485.54 L1707.90,484.96 L1708.90,484.37 L1709.90,483.78 L1710.90,483.19 L1711.90,482.60 L1712.90,482.00 L1713.90,481.41 L1714.90,480.81 L1715.90,480.21 L1716.90,479.61 L1717.90,479.01 L1718.90,478.41 L1719.90,477.80 L1720.90,477.20 L1721.90,476.59 L1722.90,475.98 L1723.90,475.36 L1724.90,474.75 L1725.90,474.14 L1726.90,473.52 L1727.90,472.90 L1728.90,472.28 L1729.90,471.66 L1730.90,471.03 L1731.90,470.40 L1732.90,469.78 L1733.90,469.15 L1734.90,468.51 L1735.90,467.88 L1736.90,467.24 L1737.90,466.61 L1738.90,465.97 L1739.90,465.33 L1740.90,464.68 L1741.90,464.04 L1742.90,463.39 L1743.90,462.74 L1744.90,462.09 L1745.90,461.43 L1746.90,460.78 L1747.90,460.12 L1748.90,459.46 L1749.90,458.80 L1750.90,458.13 L1751.90,457.47 L1752.90,456.80 L1753.90,456.13 L1754.90,455.46 L1755.90,454.78 L1756.90,454.10 L1757.90,453.42 L1758.90,452.74 L1759.90,452.06 L1760.90,451.37 L1761.90,450.68 L1762.90,449.99 L1763.90,449.30 L1764.90,448.60 L1765.90,447.90 L1766.90,447.20 L1767.90,446.50 L1768.90,445.80 L1769.90,445.09 L1770.90,444.38 L1771.90,443.66 L1772.90,442.95 L1773.90,442.23 L1774.90,441.51 L1775.90,440.79 L1776.90,440.06 L1777.90,439.33 L1778.90,438.60 L1779.90,437.87 L1780.90,437.13 L1781.90,436.39 L1782.90,435.65 L1783.90,434.91 L1784.90,434.16 L1785.90,433.41 L1786.90,432.66 L1787.90,431.90 L1788.90,431.14 L1789.90,430.38 L1790.90,429.62 L1791.90,428.85 L1792.90,428.09 L1793.90,427.31 L1794.90,426.54 L1795.90,425.77 L1796.90,424.99 L1797.90,424.21 L1798.90,423.42 L1799.90,422.64 L1800.90,421.85 L1801.90,421.06 L1802.90,420.26 L1803.90,419.47 L1804.90,418.67 L1805.90,417.87 L1806.90,417.06 L1807.90,416.26 L1808.90,415.45 L1809.90,414.64 L1810.90,413.83 L1811.90,413.01 L1812.90,412.19 L1813.90,411.37 L1814.90,410.55 L1815.90,409.73 L1816.90,408.90 L1817.90,408.07 L1818.90,407.24 L1819.90,406.41 L1820.90,405.57 L1821.90,404.73 L1822.90,403.89 L1823.90,403.05 L1824.90,402.20 L1825.90,401.36 L1826.90,400.51 L1827.90,399.66 L1828.90,398.80 L1829.90,397.95 L1830.90,397.09 L1831.90,396.23 L1832.90,395.37 L1833.90,394.51 L1834.90,393.64 L1835.90,392.78 L1836.90,391.91 L1837.90,391.03 L1838.90,390.16 L1839.90,389.29 L1840.90,388.41 L1841.90,387.53 L1842.90,386.65 L1843.90,385.77 L1844.90,384.89 L1845.90,384.00 L1846.90,383.11 L1847.90,382.22 L1848.90,381.33 L1849.90,380.44 L1850.90,379.55 L1851.90,378.65 L1852.90,377.76 L1853.90,376.86 L1854.90,375.96 L1855.90,375.06 L1856.90,374.15 L1857.90,373.25 L1858.90,372.34 L1859.90,371.44 L1860.90,370.53 L1861.90,369.62 L1862.90,368.71 L1863.90,367.79 L1864.90,366.88 L1865.90,365.97 L1866.90,365.05 L1867.90,364.13 L1868.90,363.22 L1869.90,362.30 L1870.90,361.38 L1871.90,360.45 L1872.90,359.53 L1873.90,358.61 L1874.90,357.68 L1875.90,356.76 L1876.90,355.83 L1877.90,354.91 L1878.90,353.98 L1879.90,353.05 L1880.90,352.12 L1881.90,351.19 L1882.90,350.26 L1883.90,349.33 L1884.90,348.40 L1885.90,347.47 L1886.90,346.54 L1887.90,345.60 L1888.90,344.67 L1889.90,343.74 L1890.90,342.80 L1891.90,341.87" fill="none" stroke="#e23e58" stroke-width="4.7" stroke-linejoin="round"/>
<circle cx="1457.8" cy="599.8" r="5.1" fill="#e23e58"/>
<path d="M1073.70,674.30 L1078.90,674.30" stroke="#333333" stroke-width="2.1" fill="none" stroke-linecap="butt"/>
<text transform="translate(1069.80,679.90)" class="tk" text-anchor="end">0</text>
<path d="M1073.70,525.20 L1078.90,525.20" stroke="#333333" stroke-width="2.1" fill="none" stroke-linecap="butt"/>
<text transform="translate(1069.80,530.80)" class="tk" text-anchor="end">2</text>
<path d="M1073.70,376.10 L1078.90,376.10" stroke="#333333" stroke-width="2.1" fill="none" stroke-linecap="butt"/>
<text transform="translate(1069.80,381.70)" class="tk" text-anchor="end">4</text>
<path d="M1073.70,227.00 L1078.90,227.00" stroke="#333333" stroke-width="2.1" fill="none" stroke-linecap="butt"/>
<text transform="translate(1069.80,232.60)" class="tk" text-anchor="end">6</text>
<path d="M1073.70,77.90 L1078.90,77.90" stroke="#333333" stroke-width="2.1" fill="none" stroke-linecap="butt"/>
<text transform="translate(1069.80,83.50)" class="tk" text-anchor="end">8</text>
<path d="M1891.90,674.30 L1896.90,674.30" stroke="#333333" stroke-width="2.1" fill="none" stroke-linecap="butt"/>
<text transform="translate(1900.60,679.90)" class="tk">0</text>
<path d="M1891.90,525.20 L1896.90,525.20" stroke="#333333" stroke-width="2.1" fill="none" stroke-linecap="butt"/>
<text transform="translate(1900.60,530.80)" class="tk">5</text>
<path d="M1891.90,376.10 L1896.90,376.10" stroke="#333333" stroke-width="2.1" fill="none" stroke-linecap="butt"/>
<text transform="translate(1900.60,381.70)" class="tk">10</text>
<path d="M1891.90,227.00 L1896.90,227.00" stroke="#333333" stroke-width="2.1" fill="none" stroke-linecap="butt"/>
<text transform="translate(1900.60,232.60)" class="tk">15</text>
<path d="M1891.90,77.90 L1896.90,77.90" stroke="#333333" stroke-width="2.1" fill="none" stroke-linecap="butt"/>
<text transform="translate(1900.60,83.50)" class="tk">20</text>
<path d="M1232.10,674.30 L1232.10,679.80" stroke="#333333" stroke-width="2.1" fill="none" stroke-linecap="butt"/>
<path d="M1458.00,674.30 L1458.00,679.80" stroke="#333333" stroke-width="2.1" fill="none" stroke-linecap="butt"/>
<path d="M1684.00,674.30 L1684.00,679.80" stroke="#333333" stroke-width="2.1" fill="none" stroke-linecap="butt"/>
<path d="M1078.90,76.85 L1078.90,674.30" stroke="#000" stroke-width="2.1" fill="none" stroke-linecap="butt"/>
<path d="M1891.90,76.85 L1891.90,674.30" stroke="#000" stroke-width="2.1" fill="none" stroke-linecap="butt"/>
<path d="M1077.85,674.30 L1892.95,674.30" stroke="#000" stroke-width="2.1" fill="none" stroke-linecap="butt"/>

<text x="1.2" y="16.7" class="tb" letter-spacing="0.9">(A)</text>
<text x="464.0" y="45.5" class="tt t1" text-anchor="middle">MACEs</text>
<text x="980.9" y="16.7" class="tb" letter-spacing="0.9">(B)</text>
<text x="1501.9" y="45.5" class="tt t2" text-anchor="middle">All-cause mortality</text>

<text transform="translate(238.9,692.9)" class="tk" text-anchor="middle">200</text>
<text transform="translate(463.6,692.9)" class="tk" text-anchor="middle">250</text>
<text transform="translate(688.75,692.9)" class="tk" text-anchor="middle">300</text>
<text transform="translate(1232.1,695.2)" class="tk" text-anchor="middle">200</text>
<text transform="translate(1458.0,695.2)" class="tk" text-anchor="middle">250</text>
<text transform="translate(1684.0,695.2)" class="tk" text-anchor="middle">300</text>

<text x="491.2" y="715.0" class="lb" text-anchor="middle">AMR</text>
<text x="1485.4" y="717.4" class="lb" text-anchor="middle">AMR</text>

<text class="lb" transform="translate(58.8,583.9) rotate(-90)">HR where the refvalue for AMR is 250&#160;&#160;mmHg*s/m</text>
<text class="lb" transform="translate(1051.9,583.0) rotate(-90)">HR where the refvalue for AMR is 250&#160;&#160;mmHg*s/m</text>
<text class="lb" transform="translate(932.4,253.4) rotate(90)">Percentage of Population (%)</text>
<text class="lb" transform="translate(1930.0,254.4) rotate(90)">Percentage of Population (%)</text>

<line x1="166.6" y1="125.5" x2="231.7" y2="125.5" stroke="#e23e58" stroke-width="2.1"/>
<line x1="166.6" y1="149.3" x2="231.7" y2="149.3" stroke="#000" stroke-width="2.3" stroke-dasharray="7.97 7.97"/>
<text x="247.5" y="129.9" class="lb">Estimation</text>
<text x="247.3" y="159.2" class="lb">95% CI</text>
<text x="652.3" y="129.9" class="lb">P-overall = 0.020</text>
<text x="652.3" y="159.2" class="lb">P-non-linear = 0.145</text>

<line x1="1159.8" y1="125.5" x2="1225.1" y2="125.5" stroke="#e23e58" stroke-width="2.1"/>
<line x1="1159.8" y1="149.6" x2="1225.1" y2="149.6" stroke="#000" stroke-width="2.3" stroke-dasharray="7.97 7.97"/>
<text x="1240.4" y="129.9" class="lb">Estimation</text>
<text x="1240.2" y="159.4" class="lb">95% CI</text>
<text x="1647.2" y="129.9" class="lb">P-overall &lt; 0.001</text>
<text x="1647.2" y="159.4" class="lb">P-non-linear = 0.364</text>

</svg>
</body></html>
